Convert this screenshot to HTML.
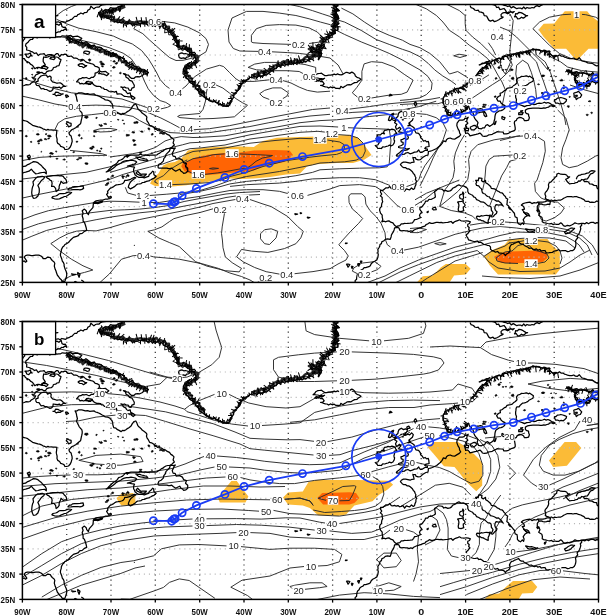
<!DOCTYPE html>
<html><head><meta charset="utf-8"><style>
html,body{margin:0;padding:0;background:#fff;}
svg{display:block;will-change:transform;filter:blur(0.3px);}
.frame{fill:none;stroke:#000;stroke-width:1.5;}
.lbox{fill:#fff;stroke:#000;stroke-width:1.3;}
.tick{stroke:#000;stroke-width:1.3;}
.gv{stroke:#3a3a3a;stroke-width:1.3;stroke-dasharray:1.1 3.96;}
.gh{stroke:#b8b8b8;stroke-width:1.2;stroke-dasharray:1.1 3.96;}
.ct polyline{fill:none;stroke:#2a2a2a;stroke-width:0.95;stroke-linejoin:round;}
.cs path{fill:none;stroke:#000;stroke-linejoin:round;}
.cs path.sp{fill:#000;stroke:#000;stroke-width:0.6;}
.tl{font-family:"Liberation Sans",sans-serif;font-size:9.1px;font-weight:bold;fill:#111;}
.cl{font-family:"Liberation Sans",sans-serif;font-size:9.4px;fill:#222;}
.pl{font-family:"Liberation Sans",sans-serif;font-size:19.5px;font-weight:bold;fill:#000;}
.trk polyline{fill:none;stroke:#1a3cf5;stroke-width:1.8;}
.trk circle{fill:none;stroke:#1a3cf5;stroke-width:1.7;}
.trk circle.dot{fill:#1a3cf5;stroke:none;}
</style></head><body>
<svg width="607" height="615" viewBox="0 0 607 615">
<defs>
<clipPath id="clipa"><rect x="22.4" y="4.5" width="576.1" height="277.9"/></clipPath>
<clipPath id="clipb"><rect x="22.4" y="321.5" width="576.1" height="277.9"/></clipPath>
<g id="coast" class="cs"><path d="M22.4 261.7 24.2 260.9 25.5 262.2 26.8 261.2 25.5 259.2 24.2 257.1 25.5 255.6 27.2 255.2 29 255.1 31.3 255.6 32.6 255.6 35.7 255.1 38.8 255.1 40.4 255.8 41.9 256.6 43.2 258.7 45.4 258.7 47.7 257.1 50.3 257.6 51.2 259.3 52.5 260.7 53.9 261.7 54.8 263.2 54.3 266.2 55.2 269.3 56 271 56.5 272.8 57.3 275 58.7 276.8 59.6 278.3 61 279.4 62.3 281.4 64.9 281.4 65.4 279.9 66.3 277.3 66.7 275.4 66.7 273.3 66.2 271.5 65.4 269.8 64.7 267.7 64.1 265.7 64.1 264.2 63.4 262.5 62.3 261.2 61.8 259.1 61 257.1 60.4 255.4 60.5 253.6 61.2 251.6 61.4 249.6 62.7 247 64 245.9 64.9 244.5 66.8 243.6 68.5 242.5 69.8 240.9 71.1 239.5 73.4 237.4 74.9 236.9 76.5 236.4 78.4 235.7 79.6 233.9 82.2 233.4 84.4 231.4 86.7 230.4 86.2 227.8 85.3 224.8 84.4 222.3 83.1 221.3 83.1 218.7 82.2 215.7 83.1 213.2 82.2 210.7 84.4 209.1 86.2 210.7 86.7 212.7 88.4 214.7 88.9 212.7 89.3 211.7 91.1 209.6 92.9 207.6 93.3 204.6 93.3 203.1 94.6 201.8 96.1 200.9 97.7 200.5 100.8 200 102.7 200.2 104.4 199.5 105.7 199 107.9 199 109.5 198.6 111 198 111.3 197 110.6 196.3 108.8 197.5 107.9 196.5 106.6 194.5 107.9 193 107.5 191.5 108.4 190.4 110.1 188.4 111.7 187.7 113.2 186.9 114.7 185.8 116.3 184.9 118.1 184.7 119.9 184.4 121.5 184 123 183.4 124.3 181.9 124.8 180.3 126.8 180.4 128.8 179.8 130.6 179.3 132.3 178.3 134.5 177.3 135.8 177.8 133.6 179.3 132.1 180.5 130.7 181.8 129.6 183.4 128.8 185.2 128.3 187.2 130.5 188.9 133.2 187.4 134.9 186.4 136.3 184.9 137.7 184 139.4 183.9 141.1 183.6 142.5 182.5 144.3 182.4 146.4 181.4 148.7 180.8 150.9 179.8 152.4 178.9 154 178.3 156.2 176.3 154 174.8 153.6 171.7 152.7 171.2 150.9 173.3 149.3 174.4 148.7 176.3 146.9 176.8 144.3 177.8 142.5 177.4 140.7 177.3 138.5 177.3 136.7 176.3 135 174.8 134.5 173.2 133.6 171.7 133.6 169.2 134.5 167.2 131.4 166.7 129.5 166.1 127.4 166.2 129.2 165.7 131 165.2 132.7 164.3 134.5 164.2 136.7 162.1 135.4 161.1 133.2 160.5 131 160.1 128.8 160.6 126.5 160.6 124.3 161.2 122.1 162.1 120.8 163.3 119.2 164 117.7 164.7 116 165.6 114.7 167.1 113.2 168.2 111.4 169.4 109.7 170.7 107.9 171.3 106.2 172 107.7 171.1 108.8 169.7 110.3 168.2 111.9 166.7 113.6 165.3 115.5 164.2 117.3 162.6 118.6 160.6 120.6 160 122.6 159.1 123.8 157.9 125 156.5 126.5 155.6 128.8 155.6 131 155.1 132.9 155.2 134.8 155.2 136.7 155.1 138.5 155.2 140.2 154.1 142.1 154.8 143.7 155.1 145.4 154.9 147 155.3 148.7 155.3 150.4 155.2 152 155.1 153.7 155 155.3 155.1 157 154.8 158.3 153.8 159.8 153.1 161.2 151.9 162.9 151.2 164.2 150 165.9 149 167.8 148.5 169.8 148.3 171.7 147.5 173 146.1 174.4 145 173.1 142.9 174 139.9 172.6 138.4 170.9 137.4 169.5 135.4 167.3 134.4 165.1 132.8 163.3 132.3 161.7 131.2 159.8 130.8 157.8 130.5 156.2 129.3 154.7 128 153.1 126.8 151.5 125.8 149.6 125.3 148.3 122.7 147.1 121.1 146.5 119.2 146.9 117.2 145.8 115.7 144.3 114.6 142.1 113.1 141.1 111.7 139.8 110.6 138.5 109.5 137.6 108.1 136.9 106 135.8 104 134.1 104.5 132.3 106.6 131 109.1 129.3 110.5 127.4 111.6 125.9 112.7 124.3 113.6 122.5 113.4 121.2 114.6 118.6 113.1 117 112.4 115.9 111.1 113.7 110.6 112.8 107.6 112.7 105.5 111.9 103.5 110.8 102.3 109.7 101 107.6 100.2 105.3 100 103.8 98.8 102.2 98 100.5 96.9 98.6 96 97.1 95.4 95.5 95 94.2 93.9 92 94.1 89.8 94.4 87.6 93.6 85.3 93.9 83.6 93.3 81.8 92.9 80 92.9 78.3 92.9 76.8 94 75.1 93.9 76 95.6 76.5 97.5 76.8 99.5 77.4 101.5 76.5 104.5 77.4 106 78.2 107.6 79.1 109.6 80.4 111.2 81.8 112.6 82.2 114.4 82.2 116.2 81.8 118.2 81.3 120.2 81 122 80.5 123.7 78.9 125 77.4 126.3 75.7 127.7 73.8 128.8 72.1 129.5 70.7 130.8 68.9 132.8 69.6 134.7 71.1 135.9 71.5 137.7 72 139.4 72.2 141.5 71.6 143.4 71.1 145.3 70.3 147 68.5 149 66.7 149.3 64.9 149.5 64.2 147.9 62.7 147 60.7 146.3 59.6 144.5 57.8 143.4 57 141.4 57.1 139.1 56.5 136.9 56.3 135.2 56.6 133.6 56.7 131.9 57 130.3 55.1 130.1 53.1 130.2 51.2 129.8 49.5 130 47.9 129.4 46.2 130.2 44.6 129.3 42.9 128.8 41.3 127.8 39.7 127.2 37.9 126.8 36.1 126.3 34.4 125.8 32.6 125.3 30.9 124.1 29.3 122.9 27.7 121.7 26 121 24.1 120.7 22.4 119.7" stroke-width="1.25"/>
<path d="M158.4 168.2 160.4 168.2 162.4 168 164.6 168.2 166.9 168.2 168.5 168.7 170.1 168.7 171.7 168.2 173.5 169.7 175.7 171.2 177.5 170.2 179.7 169.2 181 171.2 182.8 172.3 183.7 173.3 185.9 172.8 187.7 171.2 187.7 168.2 185.5 166.2 186.4 163.7 183.7 162.7 182.4 160.1 179.7 158.6 177.9 158.8 176.2 159.1 175.3 156.6 173.1 156.1 172.2 153.6 173.5 151 174.1 149.3 175.3 148 173.1 148.5 170.3 148.3 169.5 151 167.3 153.1 165.9 154.6 165.5 156.6 163.8 158.6 163.3 161.1 161.1 163.2 158.9 164.2 158 166.7 158.4 168.2" stroke-width="1.25"/>
<path d="M135.4 156.8 137.6 157.1 139.8 157.3 141.5 158 143.1 158.3 144.8 158.8 146.5 159.1 147.8 160.6 146 160.8 144.3 160.6 142.4 160.1 140.4 159.8 138.5 159.4 137 158 135.4 156.8" stroke-width="1.25"/>
<path d="M135.8 173.3 137.6 171.2 139.1 172.8 140.7 174.3 142.6 174.1 144.6 174 146.5 174 144.3 176.3 142 175.9 139.8 175.3 137.8 174.4 135.8 173.3" stroke-width="1.25"/>
<path d="M93.3 203.6 95.5 203.1 97.7 203.6 99.9 202.8 102.2 202.1 102.6 201.1 99.5 201.8 97.5 202.3 95.5 202.1 93.3 203.6" stroke-width="1.25"/>
<path d="M71.1 273.8 73.4 274.1 75.6 274.3 72.5 274.8 71.1 273.8" stroke-width="1.25"/>
<path d="M77.4 272.3 78.7 273.2 80 274.3 79.1 277.3 78.2 275.3 77.4 272.3" stroke-width="1.25"/>
<path d="M81.3 279.9 83.6 281.4 83.1 282.9 84.4 282.4" stroke-width="1.25"/>
<path d="M74.7 281.4 76.9 282.4 76.6 284.4 76 286.4 73.8 284.4 74.7 281.4" stroke-width="1.25"/>
<path d="M22.4 173.3 24 172.5 25.7 172.1 27.3 171.6 29 171.2 31.3 169.2 33 171.2 34.3 172.5 35.7 173.8 38 173.5 40.1 172.8 42.3 172.5 44.6 172.3 46.3 173.8 46.3 171.7 45.4 169.7 43.8 168.3 42.3 166.7 41 165.2 39.4 164 37.9 162.7 35.7 161.9 33.5 161.6 32 162.5 30.5 163.2 29 164.2 27.1 164.9 25.5 166.2 22.4 166.7" stroke-width="1.25"/>
<path d="M33.5 198.5 35.7 198 37.9 196 38.5 194.2 39.2 192.5 39.3 190.4 39.2 188.4 38.6 186.9 37.9 185.4 39 183.9 40.1 182.4 41.1 180.9 42.3 179.8 43.7 178.8 44.6 177.3 42.3 176.3 40.1 176.6 37.9 176.8 35.7 178.3 34.3 180.1 33 181.9 33.5 184.9 32.6 186.8 32.1 188.9 31.9 190.7 31.7 192.5 31.9 194.5 32.6 196.5 33.5 198.5" stroke-width="1.25"/>
<path d="M45.9 176.8 47.6 176.3 49.5 176.2 51.2 175.8 52.9 175.6 54.5 175.5 56.2 175.6 57.9 175.3 59.6 175.9 61.4 175.7 63.2 176.3 64.3 178 65.8 179.3 66.5 181 66.7 182.9 64.9 182.9 63.2 183.4 61 181.3 60.5 183.2 59.6 184.9 59.1 186.6 59.2 188.4 57.9 190.2 56.1 191.5 55.6 188.4 53.9 186.4 51.6 186.4 52.1 183.4 51.6 180.8 50 180.2 49 178.8 47.3 178.1 45.9 176.8" stroke-width="1.25"/>
<path d="M51.6 198 53.3 198.3 54.8 199 57 199.2 59.2 199 60.9 198.1 62.7 197.4 64.5 196.5 66.1 196.3 67.6 195.5 68.9 194.4 70.4 193.6 71.6 192.5 68.9 192 66.9 192.7 64.9 193.5 63.3 193.7 61.7 193.6 60.1 193.5 58.6 194.2 57.3 195.4 55.6 196 53 196.5 51.6 198" stroke-width="1.25"/>
<path d="M67.6 189.9 69.4 190 71.1 189.9 73.4 189.7 75.6 189.7 77.8 189.5 80 189.9 81.9 189.4 83.6 188.4 83.1 185.9 80 186.4 76.9 186.7 74.7 186.6 72.5 186.9 71.2 188.1 69.4 188.2 67.6 189.9" stroke-width="1.25"/>
<path d="M28.6 158.6 30.4 157.1 29.5 155.1 27.3 156.1 28.6 158.6" stroke-width="1.25"/>
<path d="M35.7 83.8 35.9 81.9 38.1 81.2 38 79.1 39.2 77.8 40.7 76.2 42.5 75.5 44.6 75.2 46.4 75.2 47.6 77.1 49.8 76 51.2 77.3 50.9 79.8 52.5 81.8 54.4 82.3 56.2 83 58.1 83 60.1 82.8 61.9 83.9 63.4 85.5 65.4 86.4 63.5 86.2 62.2 87.2 61 88.4 59.4 87.1 57.4 87.7 55.6 87.4 53.2 87 52.9 89.5 51.6 90.8 49.9 91.4 48.2 90.5 46.5 89.5 44.6 89.4 43.2 88.5 41.2 88.9 40.1 87.4 39 85.7 36.8 85.5 35.7 83.8" stroke-width="1.25"/>
<path d="M52.5 94.4 54.5 94.2 55.7 92.1 57.9 92.4 59.5 93.2 61.2 94 63.2 93.9 61.5 94.5 60.1 95.4 58.2 95.2 56.2 95.9 54.5 94.3 52.5 94.4" stroke-width="1.25"/>
<path d="M22.4 85.8 24.3 85.5 26.2 84.7 28.2 84.8 29.9 84.5 31.1 83.1 32.6 82.3 34.6 80.9 35.7 78.8 33.6 78.9 32.1 77.3 34.5 77.2 35.6 75 37.5 74.2 40.1 72.7 42.1 72.4 43.7 73.7 45.6 73.3 46.8 71.7 48.9 70.9 51.2 70.7 52.7 69.6 53.5 67.5 55.6 67.2 57 66 59 65.6 59.6 63.6 60.4 61.6 61 59.6 59.4 58.9 58.2 57.5 56.5 57 54.8 56.9 53.3 56 51.7 55.5 49.9 56 47.9 56.8 45.9 57.4 43.7 57 43.2 59.3 43.2 61.6 44.4 63.3 45.4 65.1 43.5 65.6 42.4 67.8 40.1 67.7 38.2 67.3 36.5 67.7 34.8 68.7 33.6 66.9 32.3 65.2 30.4 64.1 29.1 62.5 27.2 61.7 25.5 60.6 24.5 58.7 22.4 58.6" stroke-width="1.25"/>
<path d="M66.7 36.1 68.1 37 69.9 37.3 70.8 39.1 72.5 39.5 73.5 41.2 75.6 40.9 77.2 41.4 78.8 42.1 80.3 43.1 82.2 42.4 83.8 43.2 85.9 41.7 87.4 42.8 88.9 43.9 90.2 45.5 91.9 46.1 94.3 45.3 95.5 46.9 97.6 46.9 99.5 47.4 101.4 48.2 103.1 49.5 104.7 50.1 105.9 52 108 51.4 109.7 52 110.9 54.1 113.1 52.9 114.6 53.9 116.3 54 117.7 55.8 119.5 57 121.7 57.6 123.6 58.9 125.2 60.6 127 62.1 128.8 63.6 130.2 64.7 132.7 63.4 133.6 65.5 135 66.6 136.5 67.4 137.9 68.4 139.8 68 141.2 69.2 143.1 69.3 144.9 69.9 146.5 71.2 148.7 72.7" stroke-width="1.3"/>
<path d="M65.7 38 67.3 38.7 68.7 39.7 69.8 41.2 71.2 42.3 73.7 41.3 74.7 42.9 76.6 42.7 78.1 44.2 79.7 45.2 81.7 44.5 82.8 47.2 85.1 44.8 86.7 45.1 88.2 46 90.2 45.9 91.1 48.2 92.9 48.6 94.7 49 96.1 50 97.7 50.1 99.3 50.5 100.4 52.2 102.3 51.5 104.4 51.2 105.3 53.8 107 54.3 109 54.1 110.6 54.6 111.9 56.1 113.9 55.4 115.4 56 117 57.2 118.9 57.9 120.4 59.3 121.7 61.3 123.8 62.3 125.7 62.6 125.9 64.9 127.6 65.5 129 66.8 130.8 67 132.5 67.8 134.1 68.7 135.8 68.9 137.3 69.7 138.9 70.3 140.4 71.2 142.7 70.2 144.3 71.2 145.5 73.2 147.5 74.5" style="stroke:#2a2a2a;stroke-width:2.4"/>
<path d="M66.4 36.6l-0.5 0.4M67.5 36.8l-0.6 1.2M68.8 37.4l0.2 -0.7M69.7 38l0.4 4.2M70.7 38.4l-1.6 5.1M71.6 38.5l-0.1 1.3M72.3 38.9l-0.5 0.6M73.3 40.1l-4.5 3.1M74.8 40.3l-0.1 0.8M75.5 40.9l0.9 -1.1M76.3 40.9l-1.4 1.8M77.5 41.2l-1.4 2.6M78.5 42l0.1 2.1M79.7 41.5l0.4 0.8M80.9 41.8l0.2 2.4M82 42l0.5 2.7M82.8 42.6l-0.2 1.2M83.5 42.8l-0.5 2M84.3 42.7l-0.9 1.4M85.6 43.4l0.1 2.7M86.5 42.8l-1.8 3.4M87.2 43.2l0.6 1.5M88.2 43.8l-1.5 4.9M89.1 44.7l-0.9 3.6M90.1 44.3l-0.9 3.4M90.8 45l-1.6 3.3M92.4 45.2l-3.9 3.5M93.1 45.4l-4.5 3.3M94.2 45.8l-3.5 3.3M95 46.8l-0.3 1.1M95.6 47.2l0 0.6M96.6 47.5l-1.7 1.7M97.6 47.9l0.3 3.6M98.3 48l-1.9 1.5M99.2 48.7l-0.2 0.7M100.4 48.5l-1.4 4.1M101.6 48.8l-1 2.4M102.8 49.2l-0 -0.8M104.1 49.6l0.3 -0.4M105.4 49.7l-1.4 4.5M106.2 50.7l0.3 4.3M107.3 51.2l-0.6 0.4M108.4 50.9l-0.6 1.7M108.9 51.8l-0.3 4.4M109.7 52.5l-1.4 1.7M110.5 52.8l-0.3 4.1M112 52.5l-0.5 0.6M112.7 53l-0.9 1.2M113.6 53.7l-3.2 3.4M114.9 53.2l-1.6 3.5M115.8 53.9l-1.2 2.7M117.3 54.1l-2.7 1.9M117.4 55.4l-0.4 0.7M118.4 56.1l0.6 5.4M119.9 56.4l-1.8 5.3M120.5 57.1l-2.3 3.1M121.4 57.8l-1.7 1M122.5 58.7l1.1 -2.7M123.2 58.9l1.7 -0.7M123.8 59.5l-0.1 1.5M124.8 60.6l-0.9 1.8M125.4 61.5l-4.4 1.4M126.6 61.6l0 -1.3M127.3 63l-1 2.6M129 63.2l1.1 -1.8M129.6 64l0 1.9M131.2 64.2l-3.4 1.9M131.8 64.6l-0.1 3.1M132.5 65.7l-4.1 3.9M133.5 66.5l-2.2 3.6M134.3 66.5l-0.1 0.9M135.3 67.3l-1 3M136.5 67.9l-0.2 1.2M137.8 67.4l0.6 -0.6M138.2 68.4l-1.9 4.7M139 68.9l-2.3 3.2M139.9 69.1l-0.1 1.7M140.7 69.6l-0.1 -0.5M142 69l-2.7 5.3M142.8 69.5l-0.7 0.6M143.9 70.6l-0.6 3.5M145.4 70.3l-1.7 1.8M145.8 71.4l-0.8 0.9M146.9 71.8l0.7 -2.7M147.9 71.6l-0.8 4.7M148.6 72.2l-1.5 0.8" stroke-width="1.05"/>
<path d="M66.7 36.1 68.8 35.7 71 35.2 71.9 37.1 73.5 37.7 74.5 39.3 75.6 40.9 77.5 40 79.3 40 80.9 40.7 82.2 42.4 83.6 44 85.5 43.5 86.8 45.2 88.9 43.9 90.1 45.5 92.2 45.4 94.5 44.8 95.5 46.9 97.3 47.8 99.6 47.2 101.6 47.5 103.1 49.5 104.6 50.4 106.8 49.7 107.6 52.4 109.7 52 111.1 53.4 113.3 52.2 114.2 55 116.3 54 117.4 56.2 119.9 56.3 121.7 57.6 124 58.5 125.2 60.6 126.4 62.8 128.8 63.6 131.8 61.3 131.9 65.1 133.4 65.9 135 66.6 136.9 66.4 138.7 66.4 140 67.6 141.2 69.2 141.9 72.6 144.9 70.1 146.5 71.2 148.7 72.7" stroke-width="0.9"/>
<path d="M148.7 72.7 147 73.1 145.5 73.9 143.8 74.2 142 75.8 139.8 76.8 137.8 76.7 135.7 76.8 134.1 78.3 131.6 78.4 129.6 76.8 128.5 75.2 126.6 75 125.3 73.9 123.4 73.7 125.5 75 126.1 77.3 128.2 78.4 129.6 80.3 132 81.1 133.2 83.3 134.3 85.2 134.1 87.4 131.9 88.2 131 90.4 129.1 90.1 128.1 88 126.1 87.9 124.4 87 122.5 87.7 120.8 86.9 122.5 87.3 123 89.2 124.2 90.2 125.7 90.9 126.5 92.4 127.7 93.7 130.2 92.9 130.7 95.4 132.3 96 130.5 96.9 128.5 96.8 126.5 96.5 124.5 96.4 122.8 95.3 121.1 94 119 93.9 117.2 94.2 116.3 91.3 114.4 92.1 112.8 91.5 111 91.9 109.3 91.5 107.8 90.5 106.3 89.5 104.4 89.4 103.3 88 101.5 87.9 100.4 86.5 98.6 86.4 96.7 86.4 95.1 85.6 93.7 84.7 92.4 83.3 90.6 83 88.9 83.5 87.1 83.8 85.3 83.3 83.6 84 81.8 83.3 80 83.8 78.7 82 76.5 81.8 77.8 80.3 79.1 78.8 80.9 78.7 82.6 77.6 84.4 77.9 86.2 77.5 88 78.3 89.9 78.6 91.5 77.3 93.3 77.3 95 75.6 95.1 73.2 96.8 72.6 98.3 71.7 99.5 70.2 99.1 67.8 96.8 66.6 95.2 66.3 94.1 65 92.7 64 91.1 63.6 89.3 63.1 87.5 62.7 85.9 61.9 84.4 60.6 82.9 59.4 80.9 59.7 78.9 59.9 77.4 58.6 75.8 58 73.9 58.2 72.5 57.1 71.1 56 69.4 56.4 67.8 56.4 66.4 54.4 64.8 54.1 63 54.8 61.4 54.5 59.7 56.7 58 53.7 56.3 53.7 54.6 55.4 52.9 55.1 51.2 54.5 49.4 54.6 47.6 54.9 45.8 56 44.1 53.7 42.3 54 40.3 54.1 38.2 55.5 36.4 52.9 34.4 53.5 32.8 52.1 30.9 51.4 29 50.5 26.6 50 26.8 47.4 25.5 45.9 26 43.8 27.8 42.5 29 40.9 30.5 39.5 32.5 39.4 33.6 37.4 35.7 37.3 37.5 37.8 39.2 36.4 41 36.8 42.8 37.1 44.6 36.8 46.3 36.6 48.1 35.7 49.9 38.1 51.6 36.2 53.4 36.8 55.2 36.6 57 37.2 58.8 36.9 60.6 36.8 62.3 35.8 64.5 36.1 66.7 36.1" stroke-width="1.25"/>
<path d="M66.7 38.4 68.2 39.5 70.2 38.2 71.8 39 73.4 39.9 75 40 76.6 40.6 78.2 41.7 80 40.4 81.8 38.4 80.3 37.6 78.9 36.8 77.4 36.1 75.6 36.3 73.9 36.6 72.2 36.4 70.6 35.7 68.9 35.8 68.3 37.5 66.7 38.4" stroke-width="1.25"/>
<path d="M77.8 65.1 79.6 66.3 81.8 66.5 83.6 67.7 85.1 66.6 86.7 65.6 85 65.4 83.6 64.5 82.2 63.6 79.8 63.9 77.8 65.1" stroke-width="1.25"/>
<path d="M22.4 22.2 24.2 22.4 25.9 20.8 27.7 21.2 29.4 20.8 31.3 21.7 33.1 19.7 34.6 22.4 36.3 21.8 37.9 21.7 39.6 21.4 41.3 21.6 42.9 22.9 44.6 22.7 46.5 22.5 48.1 24.2 50.1 23.7 51.8 24.6 53.7 24.9 55.6 24.2 57.4 24.4 58.9 25.3 61.2 23.3 62 26.7 63.6 27.3 65.4 27.2 66.7 29.8 64.7 29.2 63.3 30.5 61.4 30.3 60.1 31.8 58.2 31.9 56.4 32.8 54.5 31.7 52.7 32.5 50.9 32.6 49 32.3 47.1 31.7 45.3 31.8 43.4 31.8 41.6 32.5 39.8 32.6 37.9 32.3 36.1 33.2 34.4 31.4 32.6 32.7 30.8 32.9 29 32.3 27.4 31.5 25.8 31.3 24 32.4 22.4 31.8" stroke-width="1.25"/>
<path d="M22.4 35.3 24.6 36.8 24.7 38.9 23.3 40.4 22.4 41.9" stroke-width="1.25"/>
<path d="M22.4 20.2 24 21.1 25.4 23.5 27.4 21 28.8 23.5 30.6 22.5 32.6 19.3 33.9 22.7 35.7 21.7 37.3 23.1 39 22.5 40.8 20 42.4 20.7 44 23.2 45.7 22.3 47.3 22.9 49 22.2 50.8 22.2 52.7 22.4 54.5 22.3 56.4 22.1 58.3 21.8 60.1 22.7 61.7 21.5 63.6 21.9 65.6 22.3 67.2 21.2 68.9 20.7 70.4 19.7 72.2 19.1 73.4 17.6 74.7 16.4 76.8 16.3 77.8 14.6 79.4 14.1 80.9 13 83.1 14 84.4 12.6 86.9 12.3 88 10.1 89.8 9.3 90.9 6.2 93.9 8.9 95.5 7.5 97.2 7 99.1 7 100.5 5.6 102.2 5 104.4 4.6 106.6 4.5" stroke-width="1.25"/>
<path d="M40.1 15.1 41.8 16.1 43.6 16.3 45.4 16.4 47.2 16.7 49 16.6 50.7 15.9 52.6 16.8 54.3 15.6 56.1 15.8 57.9 15.6 56 15.8 54.2 15.4 52.6 14.5 50.7 15 49 14.1 47.2 13.8 45.4 14.2 43.7 14.7 41.9 14.8 40.1 15.1" stroke-width="1.25"/>
<path d="M124.3 4.5 122.4 4.6 121.3 6.6 119.3 6.6 117.7 7.5 116.1 8.3 114.2 8.2 112.4 8.2 110.5 7.7 109.1 9.4 107.5 10.1 105.5 9.9 103.9 10.9 102.3 12.1 100.5 12.3 98.6 12.6 99.9 14.1 100 16.1 101.7 16.5 103.5 16.8 105.4 16.5 106.9 18.3 108.8 18.1 110.1 19.4 112 19.2 113.2 20.6 114.9 20.8 116.3 21.7 117.9 22.4 119.6 22.4 121.2 22.6 123.1 21.7 124.3 23.7 126 23.3 127.6 24.2 129.3 23.5 131 23.2 132.6 25.9 134.3 23.8 136 24.3 137.6 24.2 139.3 23.6 140.9 23.1 142.6 23.6 144.3 23.7 145.9 23.8 147.6 24.7 149.3 23.8 150.9 24.2 152.4 26.2 154.3 24.6 156 25 157.7 25 159.5 24.7 161.1 25.7 162.8 26.3 163.4 28.2 165.1 28.8 167.3 29.8 168.6 31.8 170.7 32.7 171.7 34.8 173.1 36.4 174 38.4 174.4 40.5 176.2 41.9 177.2 43.8 176.6 45.9 177.9 47.2 179.6 47.5 181 48.5 182.8 49 184.7 49 186.4 50 187.6 51.4 189.5 52 189.9 54.5 191.5 55.8 193.7 55.7 195.2 57 196.1 60.1 194.3 60.8 193.5 62.6 191.8 63.4 189.8 62.7 188.1 63.6 186.8 64.7 185.1 65.3 184.6 67.2 183.4 69 183.3 71.2 183 73.7 185 75.2 186.1 76.7 186.8 78.4 188.6 79.3 189 81.1 190 82.5 191.7 83.3 193.4 84 192.9 86.8 195.2 86.9 195.9 88.8 197.3 90.1 198.8 91.4 199.5 93.1 200.7 94.5 202.3 95.4" stroke-width="1.3"/>
<path d="M125.2 6.5 123.6 7.4 121.8 8.1 120.1 9 118.4 9.6 116.5 9.4 115.1 11.2 113.4 11.6 111.4 11 109.8 11.7 108 12.2 106.1 11.3 104.9 13.2 103.3 13.8 101.5 13.4 100 14.3 101 14.2 102.9 13.7 104.3 15.5 106 16 107.7 16.1 109.5 16.1 110.9 17 112.8 17 114.1 18 114.5 21.2 117.1 19.6 119.1 19.6 120.8 20.9 123 20 124.6 21.5 126.2 22.1 127.8 22.2 129.5 20.9 131.1 21.9 132.7 22.1 134.4 22.7 136 21.8 137.7 22 139.3 21.4 141 21.3 142.7 21.8 144.4 21.9 146 22.4 147.7 22.2 149.4 21.4 151.1 22 152.9 21.8 154.8 21.7 156.7 20.9 158.1 23.8 160.1 22.7 161.8 23.6 163.6 24.4 165.3 25.3 166.5 27 169 26.6 169 29 170.1 30.2 171.4 32.1 173.5 33.4 174.6 35.3 175.8 37.2 176.1 39.7 178.3 41.2 178.6 42.9 178.4 44.6 179.6 46.6 181.9 46.4 184 45.9 185.3 48.1 187.2 47.9 188.7 48.6 190.5 48.9 191.2 50.6 191.4 52.9 192.8 54.5 194.4 55.6 196.7 55.4 198.4 56.9 197.3 59.1 198.2 60.7 196.9 62.1 195.3 63 194.3 64.6 192.4 64 191.1 66.3 189.1 65.6 186.7 65.9 186.4 68.3 185.5 71.1 186.9 72.2 186.9 74 187.3 75.9 189.8 76 190.3 77.9 192 78.7 191.5 81.2 193.3 81.9 195.1 82.5 194.6 85.3 196.9 85.4 199 86.2 199.6 88.2 200.5 90 202 91 203.6 91.9 204 94" style="stroke:#2a2a2a;stroke-width:2.4"/>
<path d="M124.5 4.8l-1.2 -0.9M123.5 4.7l1.3 1M122.5 5.4l-0 1.4M121 5.6l-1.5 6.5M119.9 6.5l0.6 4.9M118.8 6.8l-1.3 -0.7M118.1 7.9l1.4 2.8M116.5 7.8l-0.1 2.4M115.7 7.7l-0.8 2M114.7 8.1l-1.3 2.8M113.3 8.1l0.5 1.5M112.5 8.9l0.8 1.7M111.7 9.6l1.8 3.6M110.6 9l3 5.7M109.6 10l-0.3 4.7M108.6 9.8l5.2 4.5M107.7 10.3l4.5 4.4M106.4 10.7l-0.5 3M105.1 10.5l0.1 0.6M104.1 11.4l-1.5 5.5M103 10.8l-0.2 1.7M102 11.5l-0.7 -3.2M100.8 11.6l-0.7 -1.2M100 11.9l0.2 -0.9M99.1 11.9l-2 5.4M99.1 12.9l1.4 -1.8M98.6 14l2.6 -0.1M99.6 15l6.4 1.1M100.1 15.9l4.5 -3.3M100.5 16.1l0.4 2.1M101.2 16.9l-0 1.5M102.2 17l-0.9 3.1M103.1 16.8l-1.5 -3.6M104 17.5l0.8 -1.3M105 17.1l-0.4 0.6M106.4 17.3l-0.8 -6.7M107.1 18l0.9 -0.7M108.5 17.8l-1.1 -5.8M109.3 18.2l-0.9 1M110 18.4l1.2 -3.3M111 19.7l-0.1 2.5M112.3 19.5l-0 0.9M112.9 20.1l1.8 -4.3M114.1 20.5l0.2 -1.3M114.8 21.3l-0.4 0.2M115.8 21.1l-2 1M116.5 21.3l3.4 -4.9M117.4 22.2l1.1 -1.9M118.8 21.7l5.5 -4.5M119.3 22.7l0.1 -1.8M120.3 23.2l1.1 -1M121.5 23.5l-0.1 -0.8M122.5 23.7l0.2 -1.3M123.5 23.9l-0.1 3.6M124.9 23.2l0.3 2.8M126.4 24.2l0.1 3M127.7 24l-0.8 -3.2M128.4 23.4l1 -4.5M129.8 23.9l0.3 -1.3M130.5 24.4l0.2 0.4M131.9 23.8l0.4 -1M133.1 24.3l-0.7 1.4M134.2 24.5l0.7 1.8M135.2 24.2l-0.8 1.3M136.5 23.9l-0.7 0.9M137.9 23.7l-1.8 -6.8M139.1 23.8l-1.6 -2.1M140.5 24.1l-0 3.1M141.9 23.7l-0.7 -6.5M142.6 24.3l0.1 -2.8M143.8 24.8l1.4 -4.1M144.7 24.5l0.2 2.2M145.5 24.4l0.2 -0.8M146.8 24l-0.9 -6.9M148.1 24l0.9 2M149.1 24.2l2.5 -6.4M150.2 24.6l-1.9 -2.4M151.3 23.9l2.3 -3.3M152 24.2l2.1 -6.3M153 24.8l1.3 -3.8M153.8 25.1l0.6 -3.8M154.7 24.5l1 2.6M155.8 25.3l-1.1 -4.1M157.2 25l3.3 -4.8M158.6 24.9l0.7 2.2M159.8 25.8l-0.1 3.3M160.9 25.9l-1.1 2.3M161.9 25.7l0.6 -1.2M162.4 26.7l0.9 -0.5M163 27.6l1.7 -6.4M164.6 27.7l1.1 -1M164.7 28.6l2.3 -2.5M165.5 29.4l2.6 -0.8M166.3 29.6l2.5 -1M167.3 29.9l2.6 -2.3M168.3 30.8l2.9 -0.7M169.1 32.1l4.7 -1.3M170.1 32.5l5 -4.3M170.6 33.8l1.8 -5.7M171.9 34.1l2.8 -2.7M172.1 35.6l3.9 -0.8M173 36.6l5.8 -0.1M173.1 37.8l4 -1M173.9 38.8l-1.8 1M175 39.5l2.4 -4.1M175.5 40.5l7.1 0.5M175.7 41.6l4.3 0.5M175.9 42.2l3.9 -2.9M176.2 43.4l1.7 -0.8M177.1 44.7l3.1 1.9M176.1 45.8l2.7 0.5M177.2 46.2l0.4 -1.8M177.8 46.5l0.1 -6M178.9 47.4l-0.3 -6M180 47.3l0 2.5M180.8 48.8l1.7 -1.1M181.7 49l2.1 -3.9M182.9 49l-0.1 -2M184.3 49l1.8 -2.1M184.9 49.7l1.8 -6.5M185.7 50.1l1.1 -4.4M186.8 50.6l1.1 -2.9M187.6 51l1.3 -2.1M189.1 51.3l0.3 -7.1M189.2 52.5l5.9 -0.3M189.4 53.8l-1.9 2.2M190.4 54.3l3.1 0.5M191.3 54.9l-0.2 -7.2M192.2 55.8l-1.3 1.5M193.3 55.6l2.4 -2.7M194.3 56.4l1.4 -3.1M195 57.2l-2.5 2.4M196 58.1l1.6 -0.5M196 59l0.8 0.2M196.2 60.4l0.7 2.8M194.9 60.9l1 1.3M194.4 62.2l2.3 5.8M193.3 62.4l3 1.4M192.1 63.3l-0.4 0.9M190.8 63l1 -1.9M189.7 63.5l-0.4 -1.2M188.7 63l3.8 3.1M188.2 64.4l1.2 5.3M186.8 65.1l5.8 3.4M186.2 66.3l0.8 4.4M185 66.6l1.6 0.6M184.2 67.3l5.2 -0.1M184.7 68.7l6.3 -0.8M184.2 69.5l2.3 2.8M183.2 70.7l4.2 1.4M183.6 71.5l1.4 -0M184 72.4l3.2 -1.8M184.1 73.6l3.3 -1.3M185 74.3l3.7 -2.1M184.7 75.5l-1.5 2.4M185.4 76.2l1.9 -0.2M186.3 76.3l-0.4 1.9M186.9 77.7l-1.8 0.3M187.9 78.5l1.2 -3.6M188.9 79.1l4.2 -0.5M189.2 80l-0.7 1.1M189.8 80.4l-0.4 0.1M189.9 81.6l5.2 -0.2M190.8 81.9l-0.6 0.4M191.3 83.4l2 -1.2M192 84.4l1.7 -0.6M193.5 84.7l2.1 -4.4M193.8 85.6l0.5 -1.8M195.3 86.3l3.9 -0.6M195.8 87.3l3.5 -5.8M195.8 88.4l-1.2 0.8M196.6 88.9l1.1 -0.2M197.2 90.1l1.4 -1M197.9 91l2.1 -5.5M198.7 91.4l5.2 -0.4M198.9 92.2l1.6 -0.8M200 92.3l1.1 -3.7M200.2 93l4.1 -1.4M201.2 93.6l4.6 -0.8M201.5 94.5l1.8 -3M201.9 95.5l-1.6 1" stroke-width="1.05"/>
<path d="M124.3 4.5 123.2 6.5 120.2 4.3 120.1 8.4 117.7 7.5 116.1 8.3 115 11.4 112.4 8 111.3 10.9 109.1 9.5 107.5 10.1 105.4 9.4 103.8 10.5 101.6 9.7 100.4 12.3 98.6 12.6 99.7 14.2 100 16.1 101.9 15.6 103.2 18.2 105.1 17.9 107.3 16.7 108.8 18.1 112 15.3 111.4 20.6 112.8 21.5 114.3 22.1 116.3 21.7 117.7 23.2 119.7 21.8 121.1 23 123.4 20.8 124.3 23.7 126.1 21.8 127.7 22.9 129.4 22.6 131 24.4 132.7 23.3 134.3 23.8 136 22.8 137.6 24.2 139.3 25.9 140.9 24.3 142.6 22.4 144.3 22.5 145.9 22.8 147.6 25.7 149.3 25.9 150.9 24.2 152.7 23.9 154.1 26.3 155.9 25.8 157.8 24.4 159.7 23.6 161.1 25.7 165.2 23.1 165.7 25.2 165.1 28.8 164.6 32.9 168.6 31.8 168.7 34.8 171.7 34.8 174.3 35.7 174 38.4 176.4 39.3 176.2 41.9 172.8 44.3 176.6 45.9 178.1 46.7 178.3 49.9 181 48.5 182.3 50.8 184.6 49.3 186.4 50 189.7 48.2 189.5 52 189.9 54.5 192 54.6 194.4 54.3 195.2 57 196.1 60.1 196 62.6 193.5 62.6 191.8 63.3 190.8 67.8 188.1 63.6 187.2 65.1 186.5 66.7 184.6 67.2 184.9 69.5 183.3 71.2 184.4 73.1 185 75.2 185.2 77.5 186.5 78.7 188.6 79.3 189.3 80.8 190 82.5 191.7 83.3 193 84.4 194.7 85 195.2 86.9 196.7 88.2 198.5 89.2 198.8 91.4 198.8 93.8 200.2 94.9 202.3 95.4" stroke-width="0.9"/>
<path d="M202.3 95.4 203.8 96.5 205 97.8 206.3 99 207.9 99.4 209.1 100.6 210.7 101 212.4 102 214.6 100.8 216.1 102.5 217.6 103.1 218.7 104.5 220.5 104.5 222.8 104.9 224.9 106.1 226.9 106 228.9 105.6 230.7 103 230.9 101.1 232 99.5 233.5 97.7 233.8 95.4 234 93.4 235.7 92.6 236.9 91.4 237.9 89.9 239.6 89 240.4 87.4 240.6 85 242.2 83.3 243.8 82.1 245.6 81.2 247.1 79.8 248.6 79 249.6 77.4 251.5 77.3" stroke-width="1.3"/>
<path d="M202.6 95.1l2.3 -1.5M203.3 96.5l0.7 -0.6M204.4 96.8l0.1 -2.6M204.7 98l0.4 -2.4M205.6 98.3l0.4 -1.2M206.6 99l-0 -2.8M207.5 99.4l0.5 -1.2M208.6 100.3l0.4 -1.8M209.2 100.8l0.4 -3.6M210.4 101.3l-0.1 0.5M211.4 101.4l-0.7 -1.8M212.8 101.6l0.8 -2.5M213.3 102.2l1.6 -2M214.8 101.7l0 0.4M215.5 102.4l0.9 -2.8M216.7 103.3l1.3 -1M217.5 103.1l1.7 -2.9M218.6 103.4l0.8 -3.3M219.2 104.5l-1 0.8M220.4 104.2l0 -1.3M221.6 105.3l2.3 -2M222.8 105.9l-0.3 -4.1M223.6 106.1l-0.3 0.3M225.2 105.5l-1.1 -2.4M226.1 106l1.8 -4.1M227.2 105.2l1.4 1.7M228 106.2l-1 -1.6M228.9 105.3l0.5 -3.4M229.5 104.9l-0.6 -1.7M230.5 103.9l-3.1 -0.9M230.5 102.5l-0.8 0.1M231.3 101.8l-1.3 -1.6M232 101l-2.5 0.8M232 99.8l-0.8 -0.3M232.2 98.5l-4.1 0.1M232.5 97.1l-2.1 0.1M233.8 96.1l-1.7 -1.4M234.2 94.6l-0.4 -1.7M235.6 93.9l-4.4 -1.7M235.9 93l0.8 0.6M236.5 92.5l0.7 0.2M236.4 91.3l-1.2 -1.6M237.9 90.8l-3.1 -1.1M238.5 90.4l-2.6 -0.3M239 89.7l-1.3 -2M239.2 89l-0.7 -2.5M239.8 88.4l-2.1 -3.3M240.3 87l-3.6 -2.6M241.1 85.7l-2.2 -0.3M241.8 84.9l-2.7 -1.5M241.5 83.7l-2.9 -0.1M242.6 83.6l-2.3 -1M243.2 82.4l-2.1 -3.2M244 82l-1.5 -0.6M244.9 81.6l-2.5 -1.1M245.9 80.5l-3 -0.8M247.1 80.3l-1.4 -0.8M248.2 79.7l-0.2 -1.1M249 78.8l-1.7 -1.1M249.9 77.5l-1.3 -1.9M251.3 77.5l0.8 0.8" stroke-width="1.05"/>
<path d="M202.3 95.4 203.4 97 205.4 97.3 206.3 99 207.8 99.5 209.6 99.5 210.7 101 212.6 101.3 214.4 101.8 216.1 102.5 217.7 102.9 219.3 103.3 220.5 104.5 222.3 106.6 224.9 106.1 227 106.7 228.9 105.6 230.7 103 232 101.5 232 99.5 230 96.2 233.8 95.4 235.3 94.4 235.8 92.7 236.9 91.4 238.6 90.5 239.2 88.7 240.4 87.4 241.7 85.5 242.2 83.3 244.6 83.2 246 81.7 247.1 79.8 248.9 79.6 249.8 77.7 251.5 77.3" stroke-width="0.9"/>
<path d="M251.5 77.3 253.4 77 255.4 76.9 257.3 77.3 258.7 75.9 260.5 76 262.3 75.9 263.9 75.2 265.6 74.2 267.7 74 269.2 72.7 270.9 71.5 272.5 70.3 274.1 69.2 275.9 68.7 276.9 67 278.5 66.1 280.4 65.5 282.3 64.9 284.3 65.2 286.1 64.1 287.9 64.5 289.7 64 291.4 64 293.2 63.9 294.9 63.1 296.7 62.7 298.4 61.8 300.3 62.3 302.2 62.9 303.8 61.6 305.8 61.9 307.3 60.7 309 60.1 310.4 59.1 311.7 57.5 313 55.9 315.7 57 317.1 55.5 318.9 55 320.4 53.9 322 53" stroke-width="1.3"/>
<path d="M251.5 75.1 253.3 74.9 255.1 73.9 256.9 75.1 257.8 72.3 259.9 73.6 261 71.6 263.1 73.2 264.4 71.5 266.5 71.6 268.1 70.8 269.1 68.9 271.7 69.1 272.8 67.4 274.2 65.9 276 65.1 277.7 64.1 279.6 64.9 281.1 64.1 282.2 61.9 283.8 61.3 285.7 62 287.3 59.9 289.4 62.4 291 61 292.9 61.9 294.6 60.9 296.2 59.5 298.2 61.1 299.9 60.7 301.6 60.4 303.2 59.5 304.5 57.9 306 57.2 307.4 56.1 309.5 57.1 311.4 56.5 312.6 55 315.3 56 316.1 53.6 317.6 52.5 319.4 52.1 321 51.1" style="stroke:#2a2a2a;stroke-width:2.4"/>
<path d="M251.5 77.3l0.5 -3.3M252.6 76.7l0.2 0.3M253.4 76.9l1.3 -3M254.2 77.3l-0.7 -2.6M254.9 76.9l-1.1 -2.3M256.1 77.3l1.2 2.6M257.4 77.8l-2.1 -1.9M258.6 76.6l-0.8 -6.1M260.2 76.7l-2.4 -5.3M261.4 75.6l-1.1 2.6M262.7 76.1l-0.2 1.8M263.5 75.5l-0 -4.1M264.2 75.2l1.3 -4.9M265.3 74.4l-1 -2M266.5 74.6l-5.3 -4M267.4 73.2l-4.5 -2.1M268.3 73.1l2.6 1.9M269.4 72.4l-5.7 -4.3M270.4 71.4l-0.7 -5.2M271.5 71.3l-0.5 -1.3M272.2 70.7l1.6 1.8M273 69.6l0.9 2.9M274.3 69.5l-1.5 -5.2M275.1 68.3l-6.2 -2.8M275.9 68l0.9 0.8M276.8 66.9l-0.4 -2.1M277.8 66l0.4 -5.6M278.9 66.1l2.4 1.8M279.6 65.7l-2.1 -4.2M280.9 65.1l-0.1 2.2M282.3 65.4l1.5 -3.4M283.2 64.5l-0.9 -1M284.5 64.2l-0.3 -3.4M285.5 64.3l-1.1 -2.6M286.9 64.1l0.2 1.7M287.6 63.8l1 1.4M288.4 63.4l0.1 -4.5M289.4 63.5l-0.1 -2.4M290.9 63.8l0.2 -5M292.3 63.7l-1.8 -6.4M293.2 63.1l0.5 2M294.1 63.1l0.3 -5.1M295.4 63.4l-0.4 -0.7M296.2 63.5l1.6 -4.1M296.7 62.3l-0.3 -1.1M297.7 63.1l-0.1 -3.7M298.4 62.5l-1.1 -3.9M299.8 62.2l-0.7 1.7M300.5 62l-2.1 -6.7M301.9 61.9l-1.4 -1.8M303 61.2l1.4 -2.8M304.3 61.1l-1.8 -1.9M305.2 60.6l0.5 1.8M306.2 60.9l0 0.3M307.1 59.7l1.8 1.6M308 59.6l2.5 2.5M309 59.3l-2.4 -4.9M310.1 58.8l-1.2 -1.2M311.4 58.9l1.3 0.7M311.9 58.4l2.1 2.7M312.5 57.6l1.1 -5.7M314 57.4l0.6 -3.8M314.9 56.2l0.8 -6.3M316 56.3l-3.8 -5.9M317.2 55.3l0.8 2M318.1 54.7l0.4 0.2M318.9 54.3l0.4 -5M319.5 53.8l-4.6 -3M320.7 53.1l-3.3 -2.4M321.4 52.8l0.1 -1.4" stroke-width="1.05"/>
<path d="M251.5 77.3 253.4 78.4 255.4 79 257.3 77.3 258.2 74.4 260.5 76 262.7 77.2 263.9 75.2 266.4 75.9 267.6 73.8 269.2 72.7 270 70.4 271.2 68.6 274.1 69.2 275.4 67.9 277.4 67.7 278.5 66.1 280.9 67.3 281.9 63.4 284.8 66.7 286.1 64.1 287.8 63.5 289.6 63.6 291.5 64.6 293.1 62.7 294.9 63.1 297.1 64.9 298.4 62.2 300.3 62.5 302.1 62.5 303.8 61.6 304.7 59.1 306.9 59.8 308.9 60 310.4 59.1 313 59.8 313.7 57.2 314.5 54.6 317.1 55.5 317.8 53 319.8 52.9 322 53" stroke-width="0.9"/>
<path d="M322 53 320.3 53.7 318.8 52.2 317.1 52.5 315.6 51.3 313.6 52 312.1 50.9 310.4 50.5 312.2 49.8 314 49.9 315.8 50.4 317.5 49.9 319.3 50 320.9 49 322.4 48 324 46.8 324.2 44.9 322.7 43.8 322.4 41.9 324.6 41.6 326 39.9 328.1 39.1 329.9 37.8 329.8 35.7 331.7 34.8 333.5 34.2 335.3 33.3 334.8 30.3 337.7 30.1 337.9 27.2 336.7 25 338.8 23.7 337.1 23.2 336.3 21.4 334.8 20.7 336.6 19.3 338.8 18.6 337.9 15.6 336.8 13.8 334.8 13.1 335.6 10.9 337.4 10.8 339.3 10.6 337.9 9.1 336.2 8 336.6 5.6 338.8 4.5" stroke-width="1.3"/>
<path d="M321.7 55.2 319.9 56 318.4 54.1 316.6 54.6 316.8 51.7 313.7 53.2 312.2 52.5 311.2 51.2 310.6 49.3 308.8 49 310.4 48.4 312 47.5 313.8 48.2 315.6 49.3 317 46.9 318.9 47.8 320.8 46.4 322 44.9 322.2 42.6 320.3 41.2 321.8 40.1 323 38.5 324.9 37.9 326.8 37.2 328.5 36.2 329 34.4 330.3 33.1 332.2 33.5 333.4 32.1 332.8 29.4 334.3 27.7 336 26.1 336.8 24.6 335.8 22.9 334.6 21.4 332.6 20.7 334.2 19.9 334.9 17.8 336.9 17.5 336.1 16.9 334.6 15.8 334.2 13.7 332.7 12.5 333.8 11 335.5 10.7 337.1 10 335.2 9.7 334 8.2 334 5.9 336.2 5 337.1 3.2" style="stroke:#2a2a2a;stroke-width:2.4"/>
<path d="M322 53.2l-3.5 7.1M320.7 52.9l0.1 -3.1M319.6 52.7l-1.5 7.4M318.6 52.7l1 3.1M317.6 52.4l0 -1.3M316.1 52.8l1.3 -2M315.6 51.5l0.1 -2M314.3 51.4l-0.4 0.4M313.1 51.3l-0.9 1.5M311.9 50.8l-4.3 3M310.8 51.1l-0.8 1.7M311.4 50.2l-0.9 -2.8M312.3 50.8l-4.1 -5.9M313 49.8l-0.1 -7.5M314.1 49.9l-3.5 -4.2M315.1 49.6l-2.1 -2.9M316.3 50.6l1.5 -6.6M317 49.5l-0.4 1.5M318.1 49.9l2.7 -4.9M319.6 50.1l-1.1 -2.1M320.1 49.3l-1.5 -5.9M321.2 49.4l0.3 -5.2M322.2 48.6l-6.9 -3.8M323 47.9l3.5 0.9M322.8 46.6l1.3 -0.1M324.1 46l2.2 3.2M324.5 44.5l-1.8 4M323.8 44l-0.7 0.4M322.9 42.9l-6.4 3.2M323 41.9l3.6 -2M322.8 41.6l1 0.9M323.8 40.8l-4.1 -3.8M324.6 40.6l2.9 2.1M325.8 40.5l-5.7 -5.4M326.2 39.1l0.6 -2.9M327.8 39.4l1.4 3.9M328.5 38.4l0.4 -2.8M329.4 38.2l-1.9 -2.6M329.8 37.6l-3.3 -7M330.9 36.7l-0.6 -0M331.8 35.9l-7.5 -2.1M331.7 34.9l-2.2 -3.8M332.8 34.3l-3.5 -2M333.8 33.6l-2.5 -1.6M334.6 33.7l-0.4 -3.9M335.5 33.1l-2.4 0.9M335.2 32l-4.8 -2.9M335.2 31l-4.5 1.7M335.4 29.9l-4.3 -4M336.2 28.8l-2.5 -3.9M337 27.7l-3.7 -3.2M337.9 27.2l-5.4 -0.6M338 26.5l2.6 0.5M337.9 25.1l-0.7 -0.5M338.1 24.3l-7.4 2.5M339.1 23.2l-6.1 4.4M337.4 23.2l0.6 -1.6M336.6 22.6l-4.1 3.8M335.5 21.6l-3.3 5.3M334.9 21.1l-3.5 4M335.8 20l-1.1 -1.2M336.9 19.9l-5.4 -2.6M338.2 19.4l-5 -5.7M339 18.6l-5.2 4.1M339.1 17.5l-5.2 -0.1M338.3 16.6l-7.8 -2.6M338.2 15.7l-0.7 0.2M336.8 15.4l-2.5 0.8M336.5 14.6l-0.7 1.4M335.6 14.2l-2.5 2.4M335.4 13.2l-1.6 2.8M335.6 13l-1.5 -4.4M336.4 12.8l-4.4 -2.8M337.2 11.4l-0.4 -1.1M338.5 11.3l-7.2 -4M339.2 10.1l-0.3 0.6M338.3 9.8l-3.5 1.1M337.3 9.1l-2 6.8M336.6 8.5l-0.2 7.9M336.1 7.9l-1.7 -1.9M336.3 7.1l-5.7 -4.7M337.1 6.2l1.2 -0M337.5 5.3l-2 -2.5M338 4.8l-2.4 -0.9M339 4.8l-1.6 -0" stroke-width="1.05"/>
<path d="M322 53 319.8 57.7 318.6 54 317.1 52.5 315.2 52.8 313.8 51.5 311.6 52.6 310.4 50.5 312.3 52.3 314 51.2 315.8 51.6 317.5 49.4 319.3 50 322 50.7 322.4 48 321.9 45.6 324.2 44.9 325.4 42.2 322.4 41.9 323.4 39.4 326 39.9 327.4 37.8 329.9 37.8 332.7 37.4 331.7 34.8 333.2 33.3 335.3 33.3 334.8 30.3 338 30.4 337.9 27.2 335.9 24.9 338.8 23.7 338.6 21.2 336.4 21.4 334.8 20.7 336 18 338.8 18.6 337.9 15.6 333.9 17.4 334.8 13.1 335.8 11.3 336.3 8.9 339.3 10.6 336.9 10.3 336.2 8 337 5.9 338.8 4.5" stroke-width="0.9"/>
<path d="M178.4 54.5 180 53.4 181.8 52.9 183.7 53.8 185.5 53.5 187.1 54 188.8 54.6 189.9 56 188.4 56.8 186.6 57.1 185.5 58.6 183.5 57.8 181.3 58.4 179.3 57.6 178.4 54.5" stroke-width="1.25"/>
<path d="M312.7 77.8 314.6 76.6 315.8 74.7 317.6 73.7 319.6 73.5 321.5 73.2 323.1 74.4 324.7 75.6 326.8 75.7 328.7 75.2 330.7 75.2 332.6 74.7 334.3 74.1 335.9 74.8 337.6 73.9 339.3 74.7 341.1 74.9 342.9 74.3 344.5 73.2 346.2 72.3 348.1 72.7 349.7 73.4 351.8 72.1 353.3 72.9 354.8 74.2 355.4 76.1 357 77.3 359.1 78 361 79.3 359.7 80.3 358.1 81.1 357 82.3 354.6 82.6 352.5 83.8 351 84.8 349.2 84.7 347.4 84.8 345.9 85.8 344.4 86.6 343 87.7 340.8 86.4 339.8 88.7 337.9 88.4 336 88.4 334.2 87.2 332.2 87.8 330.4 86.9 328.6 88.1 327 87 325.4 86.8 323.7 86.4 322.3 85.7 320.6 85.3 322.7 85.2 324.2 83.8 322.4 81.3 320.5 81.6 318.7 80.1 316.7 81.3 314.9 80.8 316.4 79.6 318.3 81.1 319.7 79.1 321.5 79.8 323.2 79.3 324.6 78.3 322.9 78.8 321.2 78.5 319.5 78.5 317.8 78 316.1 77.9 314.4 77.5 312.7 77.8" stroke-width="1.25"/>
<path d="M390.2 93.9 392 95.4 389.3 96 390.2 93.9" stroke-width="1.25"/>
<path d="M415.5 101.5 416.8 104 415.5 106.1 414.1 103.5 415.5 101.5" stroke-width="1.25"/>
<path d="M406.6 110.1 408.8 109.1 410.2 111.1 407.1 111.6 406.6 110.1" stroke-width="1.25"/>
<path d="M470 5.5 471.1 7.7 473.5 8.5 474.7 10 476.3 10.5 478.3 10.2 479.3 11.9 481.1 12.1 483.5 13.1 484.2 15.6 486.6 16 487.7 18.1 488.8 20.1 490.4 21.1 493 20.2 494.4 21.7 495.9 21.2 497.4 20.5 498.8 19.7 500.2 18.7 501.8 18.2 503.2 17.1 501.3 16.6 501 14.6 502.4 13.1 504 12.7 505.6 12.7 507.5 13.8 509 13.1 510.4 11.4 512.8 12.9 514.3 11.6 512.4 12.2 510.6 12.1 508.7 12 506.8 12.9 505.4 10.1 504 8.5 501.8 9.2 499.8 9.6 498.6 7.1 496.6 7.5 495.7 5.7 494 5 492.1 4.5" stroke-width="1.25"/>
<path d="M514.3 17.1 516.2 16.5 517.7 18.8 519.5 18.7 521.5 17.2 523.2 18.1 524.7 17.4 525.9 16.1 527.6 15.6 525.7 15.4 524.1 14.4 522.6 13.3 520.9 12.6 519 12.3 517.5 13.8 515.6 13.6 515.3 15.5 514.3 17.1" stroke-width="1.25"/>
<path d="M501 4.5 502.8 4.6 504.3 5.4 506.1 5.7 507.7 6.5 509.6 5.8 511.2 7.9 513.3 6.6 515 7.6 516.8 8.7 518.7 8 520.4 8 522.1 8.9 523.7 7 525.4 8.8 527 7.5 528.7 8.1 530.4 8.2 532 7.5 534 7.9 535.5 6.3 537.2 5.6 539.3 6.6 540.9 5.5 543.1 4.5" stroke-width="1.25"/>
<path d="M396 155.8 399.1 156.1 400.4 154.3 402.6 154.3 404.4 154.2 405.7 153.1 407.9 152.5 410 153.8 412.4 153.1 414.5 152.1 416.8 152 418.7 150 420.3 152.5 422.1 152.3 423.7 151.2 425.4 150.2 427.4 150.5 427.4 149 424.8 148.5 426.1 147 429.1 146.5 428.8 143.4 428.3 141.4 426.7 141.9 425.1 140.5 423.5 141.2 422.1 138.9 420.6 137.7 420.4 135.9 418.6 133.3 415.9 132.8 414.6 130.3 414.1 127.8 411.9 126.3 410 125.3 407.9 125.8 410.2 124.2 408.8 123.2 410.6 121.7 412.4 120.2 413.3 117.7 411.6 115.8 409.7 117.9 407.9 117.2 405.8 118.1 403.5 117.7 405.7 116.2 406.9 114.5 407.5 112.6 405.5 111.9 403.5 112.6 401.3 111.2 399.1 112.6 398.2 114.6 397.9 116.5 396.4 117.7 396 120.7 394.6 122.7 396.9 124.2 395.5 126.8 396.4 129.3 398.1 128.5 399.5 127.3 400.9 128.8 399.1 130.8 398.6 131.8 401.7 132.3 403.9 132.6 405.7 131.3 406.2 133.3 407.5 135.4 408.4 137.4 407.9 138.9 406.2 139.5 404.3 138.3 402.6 139.4 400.9 139.9 401.3 141.9 403.1 142.4 403.1 144.5 401.3 145.5 398.6 146.5 398.6 147.5 400.4 147.8 402.2 148 404.3 147.9 406.2 149 409.3 148.5 407.1 150 404.8 150.4 402.6 150 401.3 151 399.1 153.1 397.4 154.3 396 155.8" stroke-width="1.25"/>
<path d="M393.8 139.4 394.6 136.4 394.2 134.4 396.9 133.3 395.7 132.1 395.1 130.6 393.8 129.6 391.9 129.1 390.2 129.8 388 129.3 386.3 130.2 384.5 130.3 383.6 132.3 384.5 133.8 382.1 133.1 380.5 134.9 378.7 134.9 376.9 134.9 377.8 136.9 376 138.4 377.9 138.6 379.1 139.9 381.4 140.4 379.9 141.4 379.1 142.9 377.8 145 375.2 145.5 376.9 147 377.8 148.5 379.6 148.4 381.4 148.5 382.7 146.8 384.9 147 386.4 146.3 388 146 389.5 145.1 391.4 145.8 392.9 145 394.2 142.9 394.6 140.9 393.8 139.4" stroke-width="1.25"/>
<path d="M393.8 113.1 391.1 114.6 389.3 117.2 388.4 120.2 389.8 120.7 391.8 119.2 392 116.7 393.3 114.6 393.8 113.1" stroke-width="1.25"/>
<path d="M392.4 117.7 394.2 118.5 396 119.2 394.6 120.7 393.1 120 391.5 119.2 392.4 117.7" stroke-width="1.25"/>
<path d="M598.5 74.2 596.3 74.4 594.1 74.7 592.7 72.6 590.6 74.9 588.9 75.3 587.4 73.7 585.6 73.7 583.9 72.9 582.1 73.4 580.3 72.8 578.6 72.7 577 71.7 575.3 71.8 573.6 72.5 571.9 72.2 570.2 71.5 568.7 70.1 566.6 70.2 568.5 70.3 569.7 71.7 571.3 72.3 572.3 73.9 573.6 75.1 575.5 75.2 575.2 77.3 574.6 79.3 575.3 81.4 576.3 83.3 578.1 84.5 580.3 84.3 582.1 85.3 583.8 85.8 585.8 85.1 587.4 86.4 589 85.1 590.5 83.8 588.2 83.1 586.5 81.3 588.3 82 590.1 81.9 591.9 81.3 593.7 82 595.5 83 597.6 82.3 598.5 82.6" stroke-width="1.3"/>
<path d="M598.5 74.5l-0.1 2.1M597.1 74.7l-0.5 0.9M595.7 74.4l3.1 3M594.4 74.1l1 2.1M593.6 74.1l-0 1.6M592.8 74.6l-2.3 2.3M592 73.9l0.9 1.8M590.8 74l-1.7 1.6M589.9 73.6l-1.8 2.3M588.8 74.3l0.1 3.5M587.7 73.8l0.6 1M586.7 74.1l-0.3 0.7M585.3 73.7l1.1 -1.1M584.3 73.7l0.8 -0.8M583.1 72.7l-1.3 4.1M582 72.6l-0.4 -1.1M580.7 73.2l-0.1 0.7M579.7 73.2l-2.2 2.2M578.7 72.9l0.2 4.3M577.8 72.6l-1.6 3.1M576.5 73.1l0.8 3M575.6 72.9l0.2 -0.7M574.4 72l1.4 2.6M573 72.6l0.5 0.8M572.2 72.6l-0.7 2.8M571.4 71.7l-2.2 1.3M570.5 71.3l-0.5 2M569.3 70.7l-1.3 4.4M568.2 71.1l-0.8 1.5M567.5 70.6l-2.3 1.5M566.8 70.6l-0.3 0.4M568 70.7l-1.2 0.9M568.6 71.8l0.4 -2.4M569.6 71.6l0.1 -1.2M570.7 72.3l1.9 -4.4M571.8 72.5l-0.1 -2.8M572.7 72.9l-0.2 1.2M573.4 74.3l3 -2.4M574.4 75l0.1 1M575.6 75.5l2.1 2.3M575.3 76.8l1.2 -0.4M574.6 77.8l1.7 1.2M574.6 78.6l3.2 3.5M574 79.5l0.5 -0.7M574.6 80.8l2.8 -0.4M575.7 82l-0.8 1M576.5 82.6l1.9 -2.1M576.7 84l3.5 -2.3M577.8 83.5l-0.2 -1.3M578.6 83.6l1.2 -2M579.5 84.8l-1 0.8M581 85.1l1 -1.5M581.7 85.5l2.6 -2M582.9 86l1.6 -3.7M584 86.3l0.4 -2.1M585.3 86.4l-2.1 -4.3M586.2 85.9l-0.1 -3.5M586.8 86.8l0.1 2.4M587.9 86.6l-1.7 -3.7M588.4 85.4l1.3 0.9M589.3 84.3l0.7 0.6M590.6 83.3l0.1 -0.3M589.2 83.3l-1.2 0.6M588.5 82.6l-3 2M587.9 81.8l-1.5 3.8M586.6 81.4l-0.7 3M587.4 81.6l0.5 -1.3M588.2 81.1l0.6 -1.1M589.2 80.9l-1.8 -3.1M590.3 81.1l1.2 -4.1M591.4 81l-0.1 1.6M592.7 81.4l-1.7 -3.5M594.1 81.3l1.3 -1.3M594.8 81.8l-0.7 -1.6M596 82.4l-0.5 2.2M597.5 81.7l2 -3.7" stroke-width="1.05"/>
<path d="M598.5 74.2 596.3 74.4 594.1 74.7 592.7 72.5 590.6 75 589 74.3 587.4 73.7 586 70.4 584 72.4 582.2 72.6 580.5 71.8 578.6 72.7 576.9 72.6 575.1 73.8 573.5 72.9 571.9 72.2 570.6 70.4 568.6 70.3 566.6 70.2 568.2 70.9 569.7 71.7 570.7 73.2 572.3 73.9 574.2 74.1 575.5 75.2 574.2 77.1 574.6 79.3 575.4 81.3 576.3 83.3 577.3 86.7 580.1 84.9 582.1 85.3 584.1 84.4 585.5 87 587.4 86.4 589.8 86.1 590.5 83.8 587.8 83.7 586.5 81.3 588.3 80.2 590.1 81.5 591.9 81.3 593.7 81.9 595.5 82.9 597.6 82.3 598.5 82.6" stroke-width="0.9"/>
<path d="M598.5 65.6 596.1 65.8 594.1 64.6 592.1 63.3 589.6 63.1 587.7 62.9 586 62 584.1 61.4 582.2 61 580.8 59.6 579.2 57.7 577.2 59.4 575.4 59.2 573.8 58 571.9 58.6 569.7 58.7 567.5 58.1 565.9 57.5 564.4 57.1 563 56 561.3 56.2 559.5 54.8 557.7 56" stroke-width="1.25"/>
<path d="M557.7 56 555.9 55.3 553.8 56.5 552 55.5 549.8 53.5 549.3 51 546.9 51.4 545.3 50.5 543.5 51 541.8 50.8 540 50.5 538.3 49.9 536.5 49.5 534.7 49.5 532.9 49.2 531.4 50 529.8 50.5 528.1 51.3 526.1 51 524.5 52 522.7 53.3 520.5 51.9 518.7 53 516.4 53 514.3 54 512.5 54.1 510.9 55.2 509 55 506.9 56.3 504.6 56 502.6 56.3 501.7 59.2 499.2 58.1 497.6 58.6 495.9 59.1 494.4 60.1 492.5 60.9 490.8 62.1 489.5 63.4 487.4 63.5 486.4 65.1 484.8 66.9 482.8 68.2 480.7 69.3 479.3 71.2 478.1 72.6 477.1 74.2 476.8 76.1 475.3 77.3 474.2 79.2 472.2 80.3 470.8 82 468.7 82.3 467.2 83.4 466 84.8 463.8 85.1 462.5 86.9 460.6 87.4 458.9 88.4 457 88.3 455.5 89.4 454 90.4 452.5 90.9 450.8 91.2 449.6 92.4 448.3 93.6 446.6 93.8 445.2 94.4 444.6 96.2 443.4 97.5 443 100.5 443.4 103.5 444.5 105.1 444.7 107.1 446.3 108.5 445.6 110.6 446.9 112.6 447.9 114.6 450 115.2 451.8 115.3 453.6 115.7 455.7 115.7 457.6 114.6 459.1 113.2 461.1 112.6 462.9 111.7 464.7 110.6 467.3 109.1 467.8 107.5 468.7 106.1" stroke-width="1.3"/>
<path d="M557.7 56.2l0.9 5M556.4 55.4l-0.9 1.5M555.5 55.9l-2 3.2M554.5 55.6l0.2 0.8M553.8 55.4l0.4 0.6M552.5 55.8l2.4 3.7M551.4 55.5l-1.3 1.5M550.9 54l-4.2 0.8M549.8 53.8l-0.5 3.9M549.1 52.8l1.3 -1.8M547.9 52.5l0.9 -0.9M547.4 51.2l-2.7 3.2M545.8 50.9l-0.8 5.3M544.6 50.8l-0.2 4.4M543.8 50l1.1 3.9M542.4 50.7l-0.5 1M541.1 50.3l-1.5 4M539.8 50.7l0.2 -1.3M539.2 49.9l0.1 -0.8M538.5 49.7l0.2 0.8M536.9 50.3l0.3 -1.4M535.6 49.9l0.6 5.4M534.4 49.6l-0.2 0.6M533 49.9l0.4 1.5M531.9 49.5l0.6 0.5M530.9 50.2l-2 4.3M530.1 50.5l-0.6 -0.5M529.3 50.3l2.1 2M528.1 50.8l2.3 4.2M527.2 51.7l3.2 4.1M526 51.3l1.5 3.7M525 51.7l2.3 3.1M523.9 52.5l0.3 0.8M522.6 52.3l0.3 2.7M521.6 52.5l0.1 1M520.6 52.6l1.2 1.6M519.7 53.1l0.2 4.6M518.2 52.6l1.5 5.1M517.2 53.4l2.2 4.2M516.5 54l-0 1.5M515.2 54.2l1.8 3.2M514.3 53.9l0.4 0.7M513.5 53.9l-0.2 2.2M512.7 54l0.3 0.9M511.5 54.3l-0.7 3.3M510.5 54.8l1.8 1.8M509.6 54.9l2.3 4.8M508.3 54.8l-1 3.1M507.6 55.8l0.9 3.6M506.3 56l-0.5 -0.4M504.8 55.4l-2 4.4M503.8 56.9l-1 -0.6M502.5 56.3l0.9 0.7M501.6 57l2.8 2.6M500.4 57.9l0.4 5.2M499.3 58.3l0.2 0.8M498.2 58.5l0.4 0.8M497 59.3l0.3 3.2M495.7 59.1l3.2 4.1M495 60.3l-1.1 4.8M494.1 60.6l1.8 3.6M492.9 60.5l0.2 0.7M492.2 61.3l-0.2 -2.5M491.1 61.5l0.2 2.9M490.5 62.2l1.1 2.1M489.8 62.4l1.8 1.5M489.2 63.9l1.9 4.7M488.3 63.8l-2.5 -1.1M487.2 64.3l4.1 2M486.7 65.2l1.5 2.4M485.5 65.5l1.5 2.7M485.2 66.7l3.7 2.3M484.2 67.4l3.6 1M483.4 68.5l-1.7 -1.6M481.8 68.6l2.5 3M481.2 69.5l1.8 4.1M480.6 70.2l2.7 4.1M479.2 70.7l3.4 3.2M478.6 71.7l-0.4 -0.4M478.6 73l0.5 0.6M477.7 73.7l3.2 -0.1M477.1 74.6l4.9 2.2M476.5 75.5l-0.6 0.1M475.5 76.3l0.9 0.5M475.5 77.7l0.7 0.5M474 77.8l-1.2 -1.2M473.9 78.8l3.9 1.3M472.5 79.4l1.4 1.5M471.7 80.6l3.1 2.1M470.6 80.9l-0.2 4.6M469.6 81.6l0.6 0.7M469.1 82.6l0 -0.3M468 82.5l4.5 2.4M467.3 83.3l-2.7 -0.3M466.8 84l0.5 3.4M465.9 84.3l1.8 0.3M465.3 85.5l0.7 0.5M464.3 85.8l-1.7 -1M463.3 85.9l3.9 1.9M462.8 87.1l3.6 3.9M461.4 87.5l2.6 1.6M460.1 87.8l4.4 2.4M459.3 88.5l-0 0.8M458.1 88.3l0.8 4.7M457.3 89.6l4 3.6M455.6 89.4l3.1 4.2M454.9 89.7l-0.5 -2.4M454.2 90.3l-1.5 -1.7M453.2 90.3l2.8 2.7M452.4 91.4l-1 -1M450.9 91.5l1.4 4.8M450.2 92.1l-0.7 -1.3M449 92.7l-0.3 2.7M447.8 93l1.2 2.2M446.8 93.5l-0 -0.5M445.6 93.8l1.7 3.8M445.2 94.8l-0.6 -0.2M444.5 95.3l0.7 1.3M443.9 96.4l3.6 1M443.1 97.6l4.9 -0.9M442.9 98.7l-2.3 0.3M443.1 99.9l1 -0.5M442.8 100.8l4.9 1.4M442.7 102.3l1.4 0.2M443.1 103.3l-0.5 0.4M444.1 104l5 0.6M444.1 104.9l4.4 -1.8M443.8 105.8l3.2 0.4M444.9 106.2l1.3 0.5M444.5 107.3l-1.9 0.2M444.9 108.4l-0.5 0M445.3 109.6l4.1 0.6M445.3 111l-0.8 0.1M446.5 111.2l1.8 -0.5M446.8 112.6l2.2 -1.1M448 112.9l3.6 -0.8M448.8 114l-0.5 0.4M449.6 115.2l-0.6 0.7M451 115.3l-0.7 -3.2M451.7 115.9l-0.9 2.3M452.9 115.8l-0.8 -2.6M454.1 115.7l0.9 -2.2M454.9 115.6l1.1 -5.1M455.4 114.6l-0.5 -0.7M457 115.2l-2.5 -2.3M458.3 114.2l-1.1 -1.2M459.2 113.5l-3 -4.3M460.2 113.4l1.6 1.3M460.6 112.6l-1.1 -1.1M461.5 112.5l-0.8 -3.4M463 112.2l-2.6 -3.3M464.2 111.4l-1.7 -2.4M465.2 110.6l-0.1 -3.6M466.4 109.8l0.2 -2.6M466.9 108.9l-1.2 -0.4M467.6 108l-4.1 -1.8M468.4 107.4l-4.3 -3.1" stroke-width="1.05"/>
<path d="M557.7 56 555.8 56.2 553.8 56.2 552 55.5 549.8 53.5 547.5 53.6 546.8 51.5 545.3 50.5 543.5 49.9 541.8 52.7 540 50.5 538.4 49.4 536.4 50 534.7 49.5 532.8 48.6 531.3 49.6 529.8 50.5 527.9 50.4 526.5 52.4 524.5 52 522.4 51.1 520.8 53.3 518.7 53 516.6 53.8 514.3 54 512.5 54.4 510.6 53.7 509 55 506.4 54.1 504.6 56 503 57.3 501.7 59.2 499.2 58.1 497.5 58.5 496.8 61.3 494.4 60.1 492.3 60.6 490.8 62.1 489.6 63.4 486.6 62.3 486.4 65.1 486.9 69.3 482.8 68.2 482.6 71.5 479.3 71.2 478.7 73.1 477.1 74.2 475.5 75.4 475.3 77.3 473.5 78.5 472.2 80.3 469.8 80.2 468.7 82.3 467.8 84.1 466 84.8 464 85.5 462.5 86.9 461 88.3 458.9 88.4 457.1 88.6 455.2 88.6 454 90.4 453.2 92.4 452.2 94.2 449.6 92.4 448.1 93.1 445.7 91.6 445.2 94.4 444.9 96.3 443.4 97.5 443 100.5 443.4 103.5 444.3 105.2 444.7 107.1 445.2 108.8 445.6 110.6 446.9 112.6 446.8 116 450 115.2 451.7 116 453.6 115.7 455.6 115.2 457.6 114.6 460.1 115 461.1 112.6 462.9 111.7 464.7 110.6 467.3 109.1 466.7 107 468.7 106.1" stroke-width="0.9"/>
<path d="M468.7 106.1 469.5 109.1 471.3 110.1 471.6 112 473.1 113.1 473.7 114.9 474 116.7 474.7 118.3 475.7 119.7 477 121.1 478 122.7 477.1 125.3 477.9 126.7 478.4 128.3 481.5 128.8 482.9 127.8 484.6 127.8 485.9 125.3 487.7 124.7 489.5 126.4 491.3 125.3 492.8 124.2 493.9 122.7 494.2 120.7 494.8 118.7 494.9 116.9 495.2 115.2 495.8 113.2 497.5 112.1 499 110.9 501 110.6 502.9 109.8 504.6 108.6 505 105.6 502.8 104.6 501 103 500.1 101 497.9 101 496.6 98.6 498.3 96.5 500.4 95.6 500.1 93.4 502.3 92.5 504.1 90.9 505.9 90.1 507 88.4 509 87.9 510.6 87.6 512.2 87.2 513.4 85.8 515.4 84.5 517 82.8 516.5 79.8 517.9 78 520.1 77.3 521.6 76.4 523.3 76.5 524.9 76.2 526.6 75.8 528.2 76.8 529.8 76.2 531.6 77.5 533.4 78.8 532.9 81.3 530.9 82.3 528.9 83.3 527.7 84.6 526.1 85.3 524.5 85.8 522.7 86.1 521.3 87.2 520.1 88.4 519.1 89.9 516.9 89.8 516.1 91.4 515.9 93.4 515.6 95.4 515.7 97.5 516.5 99.5 516.1 102 517.1 103.4 518.7 104 520.4 105 522.3 105.6 524.5 106.6 526.7 105.6 528.6 105.5 530.4 105.1 532 104 533.8 104.4 535.6 104.4 537.3 103.5 539.1 103.2 540.9 103.4 542.7 103 544.4 102.2 546.2 103.1 548 102.5 549.9 103.3 551.5 104.5 553.4 105.1 555.1 106.1 553.3 106.7 551.5 105.6 549.8 106.1 548.5 107.2 546.9 107.5 545.3 108.1 543.7 107.9 542 108.3 540.3 108.4 538.7 108.1 536.8 108.1 534.8 108 532.9 108.1 530.7 108.3 528.5 108.6 526.9 109.2 525.4 110.1 525.4 112.6 526.8 113.7 528.5 114.1 528.7 116 529.4 117.7 528.5 120.2 526.5 120.6 524.5 120.7 523.5 118.7 521.4 117.7 519 117.4 517 118.7 516.4 120.4 514.7 121.2 514.3 123 514.7 124.8 515.2 127.8 515.2 129.8 513.8 130.9 512.1 131.3 510.3 132.2 508.5 133.3 506.3 133.8 503.7 133.8 503.2 132.1 501 132 498.8 131.8 497 131.7 495.5 132.7 493.9 133.3 492.3 134.3 490.5 134.7 488.6 134.9 486.6 136.2 484.2 136.4 482.4 136 481.5 134.4 479.9 133.1 478 133.8 476 134.4 474 134.9 472 135.4 470 135.9 469.1 134.4 467.6 133 465.6 133.3 465.1 130.8 464.2 128.3 466.9 127.3 465.6 125.3 467.8 123.2 466.7 121.6 466.9 119.7 468.2 117.2 466.8 118.3 465.1 118.2 464.1 119.7 462.5 120.2 459.3 120.2 458.2 121.7 457.1 123.2 456.8 125.6 457.6 127.8 458.3 129.4 459.3 130.8 459.6 133 460.7 134.9 459.3 136.4 456.7 137.9 454.6 139.2 452.3 138.9 450.1 138 447.8 138.6 446.5 139.8 445.7 141.7 443.4 140.9 442.1 143.4 440.3 145.5 439 146.5 436.7 148.5 434.5 149.5 432.3 150.5 430.4 151.2 428.3 151.5 428.3 153.3 427.9 155.1 425.9 155.5 424.2 156.5 422.6 157.6 420.4 159.6 418.1 159.8 415.9 159.1 415.5 157.6 412.8 157.6 413.6 159.8 414.1 162.1 412.1 162.3 410.2 163.2 407.9 162.6 405.7 162.1 403.4 162.1 401.3 163.2 400.4 164.7 402.2 166.7 403.8 167.7 405.7 167.7 407 168.8 408.7 168.9 410.2 169.7 412.4 171.7 413.3 173.4 414.6 174.8 415.1 176.3 415.9 177.8 415.4 179.5 416.5 181.2 415.9 182.9 415.9 184.8 415 186.6 414.6 188.4 413.3 189.4 411.5 187.9 409.7 189.9 407.9 189.4 406.3 188.8 404.6 191.2 403 188.7 401.3 189.4 399.5 189.7 398 188.6 396.2 189.2 394.6 188.4 392.9 188.8 391.3 188.7 389.8 186.5 388 187.9 386 187.8 384.5 188.9 382.7 190.4 380.5 190.4 380.6 192.4 381.8 194 380.4 195.9 382.2 197.5 382.1 199.6 382.7 201.6 381.9 203.2 381.6 204.9 381.4 206.6 380 208.1 379.6 210.1 380.5 213.2 382.2 215.2 382.2 217.2 382.8 219.6 381.8 221.8 383.8 221.2 385.8 221.8 387.3 221.1 388.9 220.8 390.7 222.2 392.9 222.8 394.6 225.3 396.4 226.8 397.5 226.1 399.8 225.6 401.3 223.8 403 223.9 404.6 223.4 406.3 223.5 407.9 223.3 410.2 223.2 412.4 222.8 413.6 221.3 414.6 219.7 416.4 219.5 418.1 218.7 420.4 217.6 419.5 215.2 420.4 213.5 422.1 212.7 421.1 211.1 419.9 209.6 419.9 207.3 422.1 206.6 423.4 204.8 424.8 203.1 425.7 201.1 427.6 201.2 429 199.3 431 199.5 432.4 198.7 434 198 435.4 197 435 194 434.5 191.5 436.4 190.4 438.1 188.9 440.3 189 442.5 189.4 443.7 191 445.6 190.4 447.8 191.3 450 190.9 451.6 189.9 452.7 188.2 454.5 187.4 456 186.6 457.3 185.5 458.9 184.9 461 186 463.3 185.9 464.9 186.6 466.4 187.4 467.8 189.2 467.8 191.5 468.8 193.5 470.9 194.5 472.5 195.2 473.6 196.9 475.3 197.5 476.6 199.6 478.8 200.5 480.9 201.9 483.3 202.1 485.5 203.6 487.7 205.6 489.3 205.9 490.8 206.6 491.3 208.3 491.3 210.1 493 212.7 492.2 214.8 490.8 216.7 492.6 217.2 493.7 216 494.8 214.7 496.4 213.5 497 211.7 495.5 210.4 494.8 208.6 495 206.5 496.1 204.6 498.8 205.1 501.2 204.7 503.2 206.1 502.1 204.6 501 203.1 499.7 202.1 498.5 200.8 496.6 201.1 495.2 200.2 493.7 199.5 492.1 199 490.4 198.6 489.4 196.9 487.7 196.5 486.2 195.5 485.1 194 483.3 193.5 482.2 192.1 481.9 190.5 481.5 188.9 480 187.6 478.7 185.9 476.6 185.4 475.9 183.8 476.7 181.9 475.7 180.3 478.3 180.3 478.8 177.8 482 178.3 481.5 180.8 483.3 181.9 485.5 180.3 485.7 182.7 487.7 183.9 489.2 185.2 490.6 186.5 491.3 188.4 494.4 188.9 495.9 189.6 497.2 190.9 498.8 191.5 500.1 192.6 501.9 192.8 503.2 194 504.1 195.5 505.4 196.5 506.1 198.2 507.7 199 507.2 200.8 507.2 202.6 506.8 204.6 508.6 206.1 509.9 208.1 511.5 209.8 513 211.7 514.4 213.2 514.7 215.2 515.3 217 517 217.7 517.4 220 517.4 222.3 518.7 223.9 520.5 224.8 522.3 222.8 523.6 224.3 524.1 222 523.2 219.7 524.3 218.2 525.4 216.7 527.6 215.7 526.2 214.8 525 213.6 524.1 212.2 522.3 209.6 524.5 209.1 524 207.4 523 206 521.4 205.1 523.2 203.6 524.9 203 526.7 202.6 529.8 202.1 531.9 203.6 534.2 202.6 536.1 203 537.8 202.1 539.1 204.1 537.3 206.1" stroke-width="1.25"/>
<path d="M598.5 222.8 596.8 222.6 595.2 223.5 593.4 222.4 591.7 222.3 590.1 222.7 588.4 223.7 586.7 222.6 585 223.8 583.3 223.3 581.7 223.3 581.7 225.3 580.3 226.8 580.8 228.6 580.3 230.4 579.6 232.5 578.6 234.4 577.1 235.8 577.7 238 576.3 239.5 575.5 241.1 575.8 242.8 575.9 244.5 575.6 246.3 575 248 574.1 249.6 572.8 250.6 571 250.5 569.3 251.3 567.5 251.6 565.8 250.7 563.9 250.6 562.1 250.6 560.2 251 558.6 249.6 556.5 250.7 554.2 251.1 552.2 252.5 549.8 252.6 547.8 253 546.1 252.6 545 250.5 543.1 250.6 541.3 251 539.8 249.5 537.9 250.2 536.4 248.9 534.5 249.7 532.9 249.1 531.3 248 529.1 248.4 527.6 247 525.9 246.3 524.3 245.5 523.2 244 521.4 244.1 519.8 243.2 518.5 241.5 516.5 242.5 514.8 243.1 513.3 244.1 511.5 244.4 510.3 246 509.4 248 510.2 250.1 509.4 252.1 508.1 253.2 506.4 254.1 505.4 255.6 504.4 254.1 502.8 253.3 501 253.1 499.1 253.2 497.6 251.5 495.5 252.2 493.9 251.2 492.1 250.6 490.5 249.2 490.5 246.9 489 245.5 487.2 245.3 485.6 244.6 483.8 244.5 482.3 243.2 480.8 242.2 478.8 242.5 477.4 241 475.6 241.4 473.8 241.5 472.2 241 470.4 240.4 468.6 239.9 467.8 237.9 466.8 236.5 466 234.9 467.6 233.8 468.7 232.3 470 230.9 468.7 229.5 469.2 227.5 467.7 226.2 467.8 224.3 469.5 223.5 470.4 221.8 468.4 221.2 466.4 220.8 464.7 221 462.9 221 461.1 220.8 459.3 219.8 457.7 220.7 456.1 221.1 454.5 221.8 452.9 223.3 451.1 221.5 449.5 221.8 447.8 222.3 446.2 222.5 444.5 222.7 442.8 222.8 441.2 222.3 439.5 222.6 437.8 222.3 436.2 222.4 434.5 222.8 432.9 223.3 431.2 223.4 429.4 222.7 427.9 223.8 426.2 224.5 424.9 226.2 423 226.6 421.2 227.3 419 228.1 416.8 228.8 415.2 229.5 413.7 230.3 412.4 231.4 410.8 230.8 409 231.6 407.4 230.9 405.7 230.9 403.5 230.5 401.3 230.9 399.7 230.1 399.1 228.3 397.8 227.3 394.6 227.8 394.1 229.9 393.3 231.9 392.3 233.4 391.4 235 391.1 236.9 390.1 239.4 387.6 238.9 385.3 239.4 383.6 241 381.9 241.7 381.4 243.6 380 244.5 379.7 246.4 378.8 248 377.8 249.6 378.1 251.2 377.8 252.9 378.3 254.6 377.8 257.6 376.8 259.9 374.7 261.2 372.7 262.2 371.2 263.7 370.3 265.7 368.9 266.7 367.3 267.1 365.7 267.6 364.1 267.7 363 269.1 361.4 269.8 359.8 270.9 359.1 272.7 357.6 273.9 357 275.8 356.7 277.5 356.6 279.3 355.1 280.6 355.2 282.4" stroke-width="1.25"/>
<path d="M537.3 206.1 537.3 209.1 539 210.7 540 212.7 538.7 215.2 540.2 216.3 541.8 217.2 542.4 219.5 542.2 221.8 543.7 222.6 545.3 222.8 547.5 223.5 549.8 223.8 551.5 223.4 553 224.6 554.8 224 556.4 224.3 558.9 224.3 560.8 222.8 562.3 224 563.4 225.7 565.3 226.3 567.4 225.4 569.7 225.8 571.6 225 573.4 224 575 222.8 576.7 223.5 578.6 223.8 581.7 223.3" stroke-width="1.25"/>
<path d="M539.1 204.1 541.2 203.9 543.1 204.6 544.8 204.8 546.4 204.6 548.1 204.1 549.8 204.6 550.1 202.8 550.6 201.1 548.8 200.8 547 200.9 545.3 201.6 543.1 202.1 540.9 202.1 537.8 202.1" stroke-width="1.25"/>
<path d="M598.5 189.4 597.1 188 596.6 185.6 594.1 185.4 592 184.1 589.6 183.9 588.5 182 586.5 181.3 584.4 181.7 583.4 179.8 581.7 179.5 580.3 181.1 578.6 180.8 577.4 182.3 575.7 182.7 574.1 183.4 571.9 183.5 569.7 183.9 568.1 182.6 566.8 181 565.7 179.3 567.9 178.3 569.7 176.8 567.8 176.8 566.6 175 564.9 174.4 563 174.3 560.7 174.2 558.6 173.3 556.9 174.1 556.6 176.3 555.1 177.3 553.9 179 552.4 180.3 551.1 181.9 549.2 182.8 548.4 184.9 548.7 186.7 548.3 188.3 547.5 189.9 546.6 191.2 545.4 192.4 544.9 194 545.8 196.2 545.3 198.5 546.7 199.4 548.3 199.9 549.8 200.5 551.4 200 553.1 201 554.7 200.1 556.4 200.5 558.6 200 560.8 200 562.3 199.2 563.7 198.2 565.3 197.5 567.4 196.5 569.7 196.5 571.4 196.6 573 197 574.7 196.7 576.3 196.5 578.5 197.4 580.8 198 582.4 198.9 584 199.6 585.2 201.1 586.8 201.4 588.6 201.3 590.1 202.4 591.9 202.1 593.5 202.4 595.2 202.1 596.8 201 598.5 201.6" stroke-width="1.25"/>
<path d="M576.3 179.3 577 177.1 578.6 175.3 580.3 175.2 581.8 174.3 583.6 174.2 585.2 173.8 587 173.2 588.8 172.8 590.1 171.3 591.9 170.7 595 171.2 593.7 172.4 592.4 173.4 590.7 173.9 589.6 175.3 588.6 177.1 587.4 178.8 585.4 179.1 583.4 179.8" stroke-width="1.25"/>
<path d="M459.3 201.6 461.4 201.5 463.3 200.5 463.1 202.6 464.7 204.1 465.1 205.8 463.3 207.2 463.3 208.9 463.8 210.7 461.1 211.7 458.5 211.2 458.2 209.1 458.7 207.1 458.9 205.1 458.5 203.4 457.6 202.1 459.3 201.6" stroke-width="1.25"/>
<path d="M459.3 196.5 460.2 194.7 462.4 194 462.9 192 463.8 193.5 463.2 195.4 463.7 197.6 462.9 199.5 460.2 198.5 459.3 196.5" stroke-width="1.25"/>
<path d="M476.2 216.7 477.8 216.2 479.6 216.6 481.1 215.7 482.9 216 484.8 215.5 486.6 215.4 488.5 215.7 490.4 215.2 489.5 216.8 489.1 218.6 488.2 220.3 488.2 223.3 486.4 222.6 484.6 221.8 483.2 220.9 481.6 220.7 480.2 219.7 478.4 219.9 477.1 218.7 476.2 216.7" stroke-width="1.25"/>
<path d="M525.4 228.8 527.6 229.3 529.8 229.9 531.5 229.6 533 230 534.6 230.5 536.1 231.1 537.8 230.9 536.1 231.7 534.2 232.1 532.6 231.6 530.9 231.8 529.2 232 527.6 231.4 526.6 230 525.4 228.8" stroke-width="1.25"/>
<path d="M564.4 231.9 566.3 231.1 567.9 229.7 569.7 228.8 571.2 228 572.9 228.2 574.6 228.3 573.4 229.6 572 230.5 571 231.9 569.4 232.8 567.5 233.4 565.7 233.9 564.4 231.9" stroke-width="1.25"/>
<path d="M431.9 208.6 433.6 207.7 435.4 207.1 436.3 209.6 433.6 209.9 431.9 208.6" stroke-width="1.25"/>
<path d="M426.6 212.2 428.3 211.2 427.9 212.7 426.6 212.2" stroke-width="1.25"/>
<path d="M523.2 212.2 524.9 212.9 526.8 212.9 528.5 213.7 529.8 216.2 528.1 215.4 526.3 214.7 524.9 213.1 523.2 212.2" stroke-width="1.25"/>
<path d="M544 225.8 546.2 224.8 544.9 227.3 544 225.8" stroke-width="1.25"/>
<path d="M536.5 210.1 539.1 210.1 537.8 211.7 536.5 210.1" stroke-width="1.25"/>
<path d="M509.9 208.1 508.5 207.6 510.3 209.6 509.9 208.1" stroke-width="1.25"/>
<path d="M345 243 347.2 243.2 345.9 243.7 345 243" stroke-width="1.25"/>
<path d="M346.3 264.2 348.1 264.1 349.9 264.5 349 265.9 348.1 267.2 347.4 265.7 346.3 264.2" stroke-width="1.25"/>
<path d="M351.2 266.2 353 266.7 352.1 268.5 351.2 266.2" stroke-width="1.25"/>
<path d="M357.4 263.7 359.6 263.7 358.8 266.2 357.4 263.7" stroke-width="1.25"/>
<path d="M360.1 261.2 361.9 261.2 361 262.9 360.1 261.2" stroke-width="1.25"/>
<path d="M306.9 217.2 310 217.5 308.2 218.2 306.9 217.2" stroke-width="1.25"/>
<path d="M294.5 213.7 297.6 214.2 295.4 214.7 294.5 213.7" stroke-width="1.25"/>
<path d="M299.8 212.7 301.6 213.2 300.7 213.7 299.8 212.7" stroke-width="1.25"/>
<path d="M133.9 245.3 134.7 245.5" stroke-width="1.25"/>
<path d="M501.9 116.2 503.3 117.1 505 117.7 504.1 119.7 501.9 118.7 501.9 116.2" stroke-width="1.25"/>
<path d="M493.9 124.8 495 123 496.1 121.2 495.2 124.2 493.9 124.8" stroke-width="1.25"/>
<path d="M470 127.3 471.6 126.5 473.1 125.7 474.9 125.3 477.1 127.3 475.6 128.4 474.4 129.8 471.3 129.8 470 127.3" stroke-width="1.25"/>
<path d="M464.7 129.3 466.6 128.5 468.7 128.3 468.2 130.8 465.6 130.3 464.7 129.3" stroke-width="1.25"/>
<path d="M518.7 112.6 520.9 112.9 523.2 112.6 522.3 114.6 520.5 114.5 518.7 114.6 518.7 112.6" stroke-width="1.25"/>
<path d="M520.1 111.1 522.7 110.6 521.8 111.6 520.1 111.1" stroke-width="1.25"/>
<path d="M478.8 65.1 480.5 64.6 482.1 63.8 483.8 63.5 485.5 63.1 486.6 61.6 488.7 61.9 489.9 60.6 487.8 61.7 485.5 62.1 484.2 63.2 482.4 63.1 481.1 64.1 478.8 65.1" stroke-width="1.25"/>
<path d="M554.2 99.5 556 99.5 557.4 98.1 559.2 98 560.8 97.5 562.8 98 564.7 98.6 566.6 99.5 566.1 101.3 564.8 102.5 563.3 103.8 561.2 103.3 559.5 104 557.6 103 555.5 103 554.8 101.3 554.2 99.5" stroke-width="1.25"/>
<path d="M573.7 92.9 575.4 92.6 577 92.1 578.6 91.4 580.1 93.1 581.7 94.9 580.3 97.5 578.1 98 576.3 99.5 575.7 97.8 574.1 97 574.1 94.9 573.7 92.9" stroke-width="1.25"/>
<path d="M476.6 109.1 478.6 109.1 480.5 108.7 482.4 109.1 483.3 112.1 481.2 112 479.3 112.6 477.6 112.8 476.2 113.6 476.4 111.4 476.6 109.1" stroke-width="1.25"/>
<path d="M484.2 111.1 485.9 113.6 486.8 116.2 485.5 116.7 484.1 115.2 483.7 113.1 484.2 111.1" stroke-width="1.25"/>
<path d="M84.4 51 86.2 51.2 88 51.4 89.8 52 88.9 54 87 54.3 85.3 53.3 83.6 53 84.4 51" stroke-width="1.25"/>
<path d="M100 71.2 101.7 71.8 103.7 71.6 105.6 71.4 107.2 72.8 108.8 73.7 106.6 75.7 105.2 74.8 103.6 74.2 101.9 74.1 100.4 73.5 98.6 73.7 100 71.2" stroke-width="1.25"/>
<path d="M86.7 81.3 88.6 81.7 90.5 81.8 92.4 82.3 90.6 84.3 88.8 84.5 87.2 83.1 85.3 83.3 86.7 81.3" stroke-width="1.25"/>
<path d="M31.3 25.7 32.7 27.2 34.5 26.6 36.1 27.6 37.9 26.7 36.6 28.8 34.6 27.9 32.4 28.4 30.4 27.7 31.3 25.7" stroke-width="1.25"/>
<path d="M51.2 57 53.3 57 55.2 58.1 53.9 59.6 51.8 59.2 49.9 58.6 51.2 57" stroke-width="1.25"/>
<path d="M24.6 54 26.6 54.2 28.5 53.8 30.4 53 30.8 54.8 32.1 56 30.3 55.9 28.8 57.7 26.8 57 26.1 55.2 24.6 54" stroke-width="1.25"/>
<path d="M42.3 66.1 44.3 66.7 46.3 66.6 48.1 67.7 46.3 69.7 44.7 68.5 42.9 68.4 41 68.2 42.3 66.1" stroke-width="1.25"/>
<path d="M67.6 121.7 69.1 122.8 71.1 123.4 71.1 125.8 68.5 126.8 67.7 125 66.3 123.7 67.6 121.7" stroke-width="1.25"/>
<path d="M65.4 94.9 67.2 95.1 68.5 96.5 66.3 97.5 65.4 94.9" stroke-width="1.25"/>
<path d="M131 96.5 133.2 96.6 135 98 133.2 99.5 131.6 98.3 131 96.5" stroke-width="1.25"/>
<path class="sp" d="M98 150.2 97.7 151.1 96.8 151.1 96.7 150Z"/>
<path class="sp" d="M73.1 151.9 73.5 151.4 74.6 151.7 74.6 152.2 74.1 152.4 73.2 152.8 72.8 152.3Z"/>
<path class="sp" d="M80.5 157.3 82 157.9 80.9 158.6 79.4 158.8 78.1 158.2 78.9 157.4Z"/>
<path class="sp" d="M93.8 146.1 94.2 147.7 92.2 147.4 91.9 146.3Z"/>
<path class="sp" d="M135.5 123.4 133.8 123.2 134 121.9 136.5 122.4Z"/>
<path class="sp" d="M124.8 124 124.1 124.3 123.2 123.7 124.4 123.2Z"/>
<path class="sp" d="M100.6 125 101.4 124.4 102.2 125.1 102.4 126.1 101.4 126.5 100.4 126.4 100.1 125.6Z"/>
<path class="sp" d="M118.7 120.2 117.5 120 117.6 119.3 118.9 119.5Z"/>
<path class="sp" d="M96.7 132.2 93.7 132.3 93.9 131 96.1 131Z"/>
<path class="sp" d="M86.3 162.7 87.9 163 88 164.2 86.1 164.5 85 163.8 84.9 162.9Z"/>
<path class="sp" d="M129.5 134.7 129.2 135.8 126.3 136.2 126.3 134.3Z"/>
<path class="sp" d="M78 135.2 79.6 134 80.2 135.6 79.1 136.5Z"/>
<path class="sp" d="M135.9 121.4 137.2 121.5 138.1 121.9 138.1 122.7 137.2 123.4 136 122.9 135.6 122.2Z"/>
<path class="sp" d="M78.5 127.1 78 127.4 77.3 127.2 77.5 126.6 78.3 126.5Z"/>
<path class="sp" d="M94.9 136.5 94.4 136.7 93.6 136.6 93.4 136.1 93.8 135.5 94.5 135.8 95 136Z"/>
<path class="sp" d="M103 113.5 103.4 113.1 104.2 113.3 103.7 113.9 103.1 114.2Z"/>
<path class="sp" d="M134.7 131.9 134.2 133.2 131.8 132.6 132.4 131.4Z"/>
<path class="sp" d="M76.9 141.1 77.8 141.3 77.9 142 77 142.2 76.1 142.2 76.1 141.6 76.3 141.3Z"/>
<path class="sp" d="M121.9 120.3 122.7 119.9 123.7 120.1 123 120.8Z"/>
<path class="sp" d="M78.8 159.5 78.1 160 77.3 160.1 76.4 159.5 77.6 159Z"/>
<path class="sp" d="M100.6 148.8 100.5 148.3 101.1 147.8 101.8 148.3 102.2 148.7 101.5 149.3Z"/>
<path class="sp" d="M92.2 147.7 93.2 148.6 91.8 149.4 90.3 149 89.5 147.9 91.1 147.2Z"/>
<path class="sp" d="M100.3 124.8 100.4 125.4 99.5 125.6 98.7 125.1 99.2 124.5Z"/>
<path class="sp" d="M153 133.5 153.3 134.4 152.7 134.9 151.6 135.3 151.2 134.2 152 133.5Z"/>
<path class="sp" d="M143.2 132.2 141.7 132.2 140.9 131.9 140.3 131.4 141.1 130.9 142.5 130.9 142.8 131.5Z"/>
<path class="sp" d="M103.6 123.7 105.8 123.3 106.9 124.3 104.9 124.5Z"/>
<path class="sp" d="M88.2 117.3 87 118.5 84.6 117.7 84.9 116.3 87.7 116.1Z"/>
<path class="sp" d="M97.3 118 96.2 118.8 95.7 117.8 96.9 117.1Z"/>
<path class="sp" d="M135.5 140.3 134.8 141.2 133.5 141.8 132.7 140.7 132.8 139.5 134.3 139.8Z"/>
<path class="sp" d="M82.5 138.3 81.8 138.8 81.3 138.8 80.7 138.5 81 137.8 81.9 137.6Z"/>
<path class="sp" d="M135.1 145.4 133.6 145.4 133.7 144.6 134.2 143.9 135.5 144.1 136.4 144.9Z"/>
<path class="sp" d="M99.3 151.7 99.2 150.9 100.3 150.6 100.7 151.3 100.6 151.8 100 152.2Z"/>
<path class="sp" d="M50.6 154 49.7 153.8 49.7 152.9 51.1 152.5 51.2 153.6Z"/>
<path class="sp" d="M40.1 140.5 39.5 139.6 41.1 138.9 42.4 140 41.5 141.1Z"/>
<path class="sp" d="M56.9 159.2 56 159.1 55.9 158.7 56.4 158.2 57.3 158.3 58.1 158.6 57.8 159.1Z"/>
<path class="sp" d="M47.3 135.7 48.8 135.1 50.4 135.3 51.1 135.9 51.2 136.7 49.4 137.2 47.9 136.6Z"/>
<path class="sp" d="M50.3 157.4 49.3 156.3 50.1 155.6 51.3 156.1Z"/>
<path class="sp" d="M28.4 158.8 28.8 158.4 29.8 158.2 30.2 158.9 30.1 159.5 29.1 159.9 28.2 159.5Z"/>
<path class="sp" d="M37.8 133.4 39.1 133.9 39.2 134.5 38.8 135.1 37.5 135.1 36.4 134.7 36.4 133.9Z"/>
<path class="sp" d="M49.2 139 47.7 139.1 48 138.1 49.5 138.1Z"/>
<path class="sp" d="M56.7 151.8 56.3 152.3 55.8 151.8 55.5 151.4 55.7 150.9 56.3 150.9 56.8 151.2Z"/>
<path class="sp" d="M64.5 160.2 62.7 159.7 64.4 158.8 65.5 159.6Z"/>
<path class="sp" d="M39.4 142 37.3 141.8 38 140.3 40.2 140.5Z"/>
<path class="sp" d="M31.3 141.3 31.9 141.7 31.8 142.4 30.4 142.2 30.4 141.6Z"/>
<path class="sp" d="M40.8 152.1 40.9 151.7 41.4 151.3 41.9 151.7 41.8 152 41.4 152.2Z"/>
<path class="sp" d="M46 138.6 46.5 139 46.8 139.8 45.5 139.7 44.6 139.6 44.1 138.9 45 138.4Z"/>
<path class="sp" d="M52.6 154.5 51.5 154.2 50.5 153.7 50.9 152.7 52 152.6 52.6 153 53.6 153.7Z"/>
<path class="sp" d="M26.3 136.9 25.3 136.5 25.4 135.9 25.7 135.4 26.6 135.3 27.1 135.8 27.3 136.5Z"/>
<path class="sp" d="M38.7 142.7 39.4 143.2 39.4 143.8 38.8 144 38.1 143.8 38.2 143.3Z"/>
<path class="sp" d="M46.1 133.5 46.9 133.8 46.6 134.5 45.6 134.7 45.3 133.9Z"/>
<path class="sp" d="M31.5 74.5 32.1 74.3 32.7 74.3 32.6 74.7 32.5 75.2 31.9 75Z"/>
<path class="sp" d="M38 73.3 36.6 72.7 36.8 71.7 39.4 71.6 40.3 72.9Z"/>
<path class="sp" d="M27.5 63 26.7 62.9 26.7 62.4 27.4 62 28 62.4 28.3 62.9Z"/>
<path class="sp" d="M31.4 68.1 32.4 67.8 33 68.3 33.1 68.7 32.7 69.2 31.9 69 31.5 68.6Z"/>
<path class="sp" d="M37.2 69 37 68.5 37 68.2 37.5 68.1 38 68.3 37.8 68.7Z"/>
<path class="sp" d="M26.6 77.6 27.1 78.5 26.4 79.5 25.2 78.8 25.6 77.7Z"/>
<path class="sp" d="M80.5 60.4 81 59.8 82 59.4 82.9 60 82.8 60.7 81.9 61.1 80.2 61.5Z"/>
<path class="sp" d="M115.9 62.6 117.8 62.6 117 64.2 114.9 63.8Z"/>
<path class="sp" d="M119.4 73.2 119.7 72.6 120.4 72.2 121.3 72.7 121 73.5 120.5 74.1 119.8 73.7Z"/>
<path class="sp" d="M103.5 66.8 102.1 67 101.7 66.4 101.3 65.8 102.6 65.7 103.1 66.2Z"/>
<path class="sp" d="M100.9 61.2 102 61.4 101.8 62.3 101.3 62.9 100.5 62.5 99.5 62.2 100 61.4Z"/>
<path class="sp" d="M102.9 63.2 103 64.1 102.2 64.2 101.7 63.4Z"/>
<path class="sp" d="M91.1 59.8 90.6 60.6 89.6 61.2 88.7 60.5 88.3 59.5 89.3 58.8 90.3 59.3Z"/>
<path class="sp" d="M113.8 68.3 112.4 67.7 113.1 66.6 114.3 66.6 115.4 67 114.9 67.8Z"/>
<path class="sp" d="M103.7 63.4 104.5 64.1 104.1 65.1 101.9 65 100.7 64.4 100.6 63.5 102 62.7Z"/>
<path class="sp" d="M115.4 61.5 114.3 62.2 112.8 61.7 113.5 60.8 114.8 60.6Z"/>
<path class="sp" d="M497.2 78.2 496.5 79 495.8 79.5 495.1 79 495.2 78.3 495.5 77.7 496.4 77.5Z"/>
<path class="sp" d="M500.3 67.6 499.7 68.5 498.4 68.6 497.8 67.6 498.3 66.7 499.1 66.7 500 66.7Z"/>
<path class="sp" d="M506.6 70 505.6 70.2 505.1 69.6 506.2 69.1Z"/>
<path class="sp" d="M484.3 105.3 483 105.3 482.8 104.6 483.5 104.1 484.6 104.3 486.3 104.4 486.1 105.4Z"/>
<path class="sp" d="M494 97 494.5 96.2 495.3 95.8 496.2 96.2 496 96.9 495.2 97.4Z"/>
<path class="sp" d="M501 65.3 501.6 65.5 501.2 65.9 500.4 66 500 65.5 500.4 65.1Z"/>
<path class="sp" d="M510.8 70.5 510.1 69.5 511.7 68.8 513.2 69.5 512.7 70.6Z"/>
<path class="sp" d="M501.9 70 502.8 69.4 503.9 69.6 503.5 70.5Z"/>
<path class="sp" d="M485.1 106.5 485.7 107.2 484.1 107.5 482.4 107.3 482.4 106.4 484 106.1Z"/>
<path class="sp" d="M513.5 77.1 513.7 78.2 514.2 79 513 79.4 511.6 79.2 511.1 78.2 512 77.4Z"/>
<path class="sp" d="M525.7 92.9 524.9 94 523.3 93.5 524.1 92.4Z"/>
<path class="sp" d="M556.7 76.4 556.2 76.9 555.2 76.8 555.9 76.3Z"/>
<path class="sp" d="M542.6 74.9 544.3 75 544.7 75.8 544.1 76.6 542.5 76.4 541.1 76.1 541.7 75.4Z"/>
<path class="sp" d="M542 92.5 542.8 92.8 543.1 93.1 542.6 93.4 542.1 93.4 541.4 93Z"/>
<path class="sp" d="M542.3 76.5 542.3 75.9 543.5 75.6 543.8 76.3Z"/>
<path class="sp" d="M550.4 70.4 549 70.7 549 69.9 549.9 69.6 550.9 69.9Z"/>
<path class="sp" d="M560.7 93.4 560.4 93.1 560.5 92.9 560.8 92.6 561.1 92.9 561.2 93.3Z"/>
<path class="sp" d="M543.9 93.3 543.7 94.5 541.9 94 541.6 92.6Z"/>
<path class="sp" d="M564.2 85.2 564.3 86.2 563.3 85.8 563.4 85Z"/>
<path class="sp" d="M551.7 80.3 552.5 80 553.4 80.3 552.9 80.9 552.3 81.4 551.3 81Z"/>
<path class="sp" d="M548.2 68.7 547.4 68.5 547.4 67.9 547.5 67.4 548.4 67.2 548.9 67.7 548.7 68.2Z"/>
<path class="sp" d="M559.9 80.9 560.4 79.9 561.8 79.2 562.9 80 563.2 80.6 562 81Z"/>
<path class="sp" d="M563.7 89 563.2 88.7 563.2 88.2 563.9 88 564.4 88.4 564.3 88.9Z"/>
<path class="sp" d="M551 76.8 550.4 76.4 550.6 76.1 551.2 76 552 76.1 551.5 76.4Z"/>
<path class="sp" d="M538.5 83.7 539.5 84.2 539.3 84.7 538.3 84.8 537.4 84.3Z"/>
<path class="sp" d="M553.5 92 554 91.4 554.4 91 555.1 91.2 555.7 91.7 555.1 92.3 554.2 92.5Z"/>
<path class="sp" d="M556.1 108 555.8 107.6 556.3 107.4 556.5 107.8Z"/>
<path class="sp" d="M587.5 115.8 586.5 115.4 586.1 114.9 586.5 114.2 587.7 114.3 588.5 114.7 588 115.2Z"/>
<path class="sp" d="M567.5 106.9 567.3 106.3 567.7 105.6 568.7 105.8 569.3 106.5 569 107.5 568 107.2Z"/>
<path class="sp" d="M590.9 113.1 590.7 112.6 591.3 112.2 592.1 112 592.3 112.6 592.4 113.2 591.6 113.7Z"/>
<path class="sp" d="M570.1 97.3 569.2 97.4 568.9 96.6 569.7 96.4 570.5 96.6Z"/>
<path class="sp" d="M577.6 95.1 577.4 96 577.1 97 575.6 96.6 574.7 96.2 574.8 95.5 576 95Z"/>
<path class="sp" d="M589.2 101.7 588 101.4 589 100.9 590 100.4 590.9 101.2 590.3 101.9Z"/>
<path class="sp" d="M403.1 119.2 403.8 120.1 402.4 120.3 401.9 119.6Z"/>
<path class="sp" d="M401 117 402.1 117.1 401.9 117.6 400.8 117.9 400.4 117.4Z"/>
<path class="sp" d="M404.6 117.2 406 117.1 405.6 118.4 404.1 118.4Z"/>
<path class="sp" d="M162.4 134.3 162.6 133.3 164.6 133.2 164.5 134.3Z"/>
<path class="sp" d="M161.9 133.6 161.2 133.4 161.8 133 162.7 132.7 162.9 133.2 162.7 133.6Z"/>
<path class="sp" d="M160 130.3 158.7 130.2 158.1 129.2 159.3 128.6 159.9 129.4Z"/>
<path class="sp" d="M155.4 128 156.4 128.2 157.5 128.9 156.2 129.5 154.4 129.6 154.2 128.8 154 128.1Z"/>
<path class="sp" d="M159.4 133 159.9 132.4 161.2 132.1 162.2 133 160.8 133.5 159.7 133.8Z"/>
<path class="sp" d="M149.9 129.6 148.4 129.7 148 128.8 147.9 127.9 149.3 127.9 149.7 128.6Z"/>
<path class="sp" d="M127.4 155.9 128.4 156.1 128.2 156.9 127.1 156.9 126.3 156.3Z"/>
<path class="sp" d="M139.9 153.5 139.4 152.3 142 152.3 141.7 153.2Z"/>
<path class="sp" d="M126.9 155.9 128.4 156.4 127.2 157.7 126.1 156.6Z"/>
<path class="sp" d="M152.2 152.8 152.5 153.1 152.3 153.5 151.7 153.4 151.2 152.9Z"/>
<path class="sp" d="M126.6 176.5 126.6 177.2 126 177.7 125.5 177.1 125.8 176.5Z"/>
<path class="sp" d="M123.1 177.5 123.7 177.7 123.6 178.2 123.1 178.8 122.5 178.2 122.2 177.8 122.6 177.5Z"/>
<path class="sp" d="M121.6 176.8 121.9 176.2 122.3 175.4 123.6 175.9 124.8 176.4 123.5 177 122.3 177.5Z"/>
<path class="sp" d="M128.9 176.6 126.9 176.1 126.4 175.4 127.5 174.3 129.1 175.2Z"/>
<path class="sp" d="M109.5 178.9 108.9 180 107.4 180 107 179 108.1 178.3Z"/>
<path class="sp" d="M105.3 185.4 105.2 184.7 106.3 184.3 107.8 184.9 106.4 185.5Z"/>
<path class="sp" d="M112.4 175 113.6 175.2 113.7 175.9 113.2 176.7 111.6 176.4 111.7 175.5Z"/>
<path class="sp" d="M107.9 184.4 106.3 184 106.8 182.9 108.8 182.5 108.8 183.7Z"/></g>
</defs>
<rect width="607" height="615" fill="#fff"/>
<g clip-path="url(#clipa)">
<polygon points="150,183.5 153.2,177.8 158.2,173.7 163.1,165.4 168.1,163 174.7,162.1 181.2,158.8 183,156.4 187.8,150.6 197.7,148.5 210.9,147.3 224.1,146.5 240,146.5 253.8,146.9 263,141.1 276.9,137.7 300,137 316.1,136.5 336.9,135.4 350.7,134.7 357.6,137.7 365.7,146.9 371.5,155 364.5,159.6 353,163.1 336.9,163.1 316.1,164.2 306.9,166.5 300,173.4 286.1,174.6 270,176.9 253.8,178.5 240,179 230.7,178.5 219.1,180 202.7,182.7 186.2,185.2 169.7,186.8 154.9,186" fill="#fbbb37"/>
<polygon points="182.9,163 187.8,161.3 194.4,158 199.4,156.4 207.6,154.7 214.2,153.9 224.1,153.1 240,152.5 253.8,150.4 274.6,149.9 289.6,150.4 293,155 288.4,159.6 283.8,162 263,166 253.8,170.5 240,172 227.4,173.2 214.2,174.5 202.7,175.3 192.8,174.5 184.5,171.2 181.2,166.2" fill="#ff6404"/>
<polygon points="538.5,29.7 543.7,23.8 554.3,23.5 558.2,18.5 564.8,11.2 587.2,11.2 591.2,15.9 597.8,21.1 600,21 600,48.8 588.5,48.8 576.7,60.7 566.1,48.8 554.3,48.8 543.7,37" fill="#fbbb37"/>
<polygon points="484,256.3 491.4,250.5 504.6,244.8 509.5,239 547.4,239 552.4,245.6 559.8,252.2 559.8,269.5 555.7,274.4 498,274.4 489.8,265.4" fill="#fbbb37"/>
<polygon points="493.9,257.1 501.3,253 509.5,251.4 539.2,250.5 546.6,253 547.4,258 542.5,262.1 524.4,262.9 501.3,262.9" fill="#ff6404"/>
<polygon points="416.2,283 422.8,276.2 432.7,275.4 441,267.2 445.9,263.9 465.7,263.9 470.6,268.8 465.7,274.6 454.1,275.4 449.2,283" fill="#fbbb37"/>
<line x1="66.7" y1="4.5" x2="66.7" y2="282.4" class="gv"/>
<line x1="111" y1="4.5" x2="111" y2="282.4" class="gv"/>
<line x1="155.3" y1="4.5" x2="155.3" y2="282.4" class="gv"/>
<line x1="199.7" y1="4.5" x2="199.7" y2="282.4" class="gv"/>
<line x1="244" y1="4.5" x2="244" y2="282.4" class="gv"/>
<line x1="288.3" y1="4.5" x2="288.3" y2="282.4" class="gv"/>
<line x1="332.6" y1="4.5" x2="332.6" y2="282.4" class="gv"/>
<line x1="376.9" y1="4.5" x2="376.9" y2="282.4" class="gv"/>
<line x1="421.2" y1="4.5" x2="421.2" y2="282.4" class="gv"/>
<line x1="465.6" y1="4.5" x2="465.6" y2="282.4" class="gv"/>
<line x1="509.9" y1="4.5" x2="509.9" y2="282.4" class="gv"/>
<line x1="554.2" y1="4.5" x2="554.2" y2="282.4" class="gv"/>
<line x1="22.4" y1="257.1" x2="598.5" y2="257.1" class="gh"/>
<line x1="22.4" y1="231.9" x2="598.5" y2="231.9" class="gh"/>
<line x1="22.4" y1="206.6" x2="598.5" y2="206.6" class="gh"/>
<line x1="22.4" y1="181.3" x2="598.5" y2="181.3" class="gh"/>
<line x1="22.4" y1="156.1" x2="598.5" y2="156.1" class="gh"/>
<line x1="22.4" y1="130.8" x2="598.5" y2="130.8" class="gh"/>
<line x1="22.4" y1="105.6" x2="598.5" y2="105.6" class="gh"/>
<line x1="22.4" y1="80.3" x2="598.5" y2="80.3" class="gh"/>
<line x1="22.4" y1="55" x2="598.5" y2="55" class="gh"/>
<line x1="22.4" y1="29.8" x2="598.5" y2="29.8" class="gh"/>
<g class="ct">
<polyline points="56.6,15.5 63.2,10.6 71.4,6.5 78,4"/>
<polyline points="56.6,19.3 66.5,23.8 78.8,28.2 96.1,31.7 113.4,36.1 121.9,40 132.4,44 141.6,50.5 148.2,58.5 152.2,65 156.1,71.6 160.1,79.5 165.4,85.5 170,88.8"/>
<polyline points="181.5,89.5 186,86 190,81.4 195,76.5 206.4,69.1 219.5,65.3 223.7,66.6 229.4,72.4 236,78.9 240.1,81.4 254.1,81.4 263,80.5 269.5,79.8"/>
<polyline points="282.7,80.5 291,83 299.2,87.1 307.4,90.4 317.3,92.1 330,91.2"/>
<polyline points="147.8,22.1 141.2,23.8 135.4,26.2 133.8,28.7 142.8,33.7 149.5,40 156.3,46 163,52 169.5,57.5 176,60.5 183,60.3 191.2,58.4 199.4,55.9 206,51.8 208.5,44.4 206,38.6 199.4,32.8 187.9,27.1 174.7,22.9 161.5,21.3"/>
<polyline points="22.5,78 38.5,83.8 55,88.7 71.4,92.8 96,95.5 122,99 140.7,105.4 147,107.6"/>
<polyline points="160.9,108.9 167.5,107.3 170.8,105.6 165.8,102.4 160.1,100.6 153.5,95.4 148.2,88.8 144.3,80.9 141.6,74.3 136.4,66.4 131.1,58.5 123.2,53.2 110,48 95,43.5 80,40 66,37.5 56.6,36.5"/>
<polyline points="22.5,96.2 38.5,99.8 55,104 67.5,106.1"/>
<polyline points="82,105.6 96,105.1 111.5,105.6 128,107.3 139.5,109.8 149.4,113.1 160.9,118 170.8,123 179.5,127.7"/>
<polyline points="193.7,129.7 209.5,128.7 229.3,125.7 249.1,121.7 268.9,117.8 290,113.8 312.4,109.5 330,108"/>
<polyline points="55,129.5 58.2,122.9 64.8,118.8 76.4,116.3 91.2,114.7 103.5,113.3"/>
<polyline points="116.6,113.4 124.6,114.7 132.9,116.4 139.5,120.5 150,126 160,129.5 170,132.6 189.8,133.6 209.5,132.6 229.3,129.7 249.1,126.7 268.9,122.7 290,118.8 310,116 330,114.3"/>
<polyline points="177.6,116.5 180,115.2 190,114.4 199.8,113.5 203,109.4 205.5,101 206.5,92 207.3,88.5"/>
<polyline points="215.4,84.7 222.8,88 229.4,93 236,98.7 242.6,102.8 247.5,105.3 241,111 234.4,116.8 226,117.6 213,118.5 196.5,119 180,117.6 177.6,116.5"/>
<polyline points="93.7,130.5 100,128.8 110,128.4 117.1,129.6 110,131.6 100,132 93.7,130.5"/>
<polyline points="259.7,93.7 264.6,90.4 272.8,87.9 281.1,87.9 288.5,92.9 286.8,96.2 282.7,98.7"/>
<polyline points="269.5,99.5 263,97 259.7,93.7"/>
<polyline points="248.1,67.4 256.4,69.8 271.2,70.7 287.7,70.7 299.2,71.5 303,73.5"/>
<polyline points="315.7,73.5 315.7,67.4 305,64.5 290,62.5 277.8,62.4 264.6,62.4 254.7,64.1 248.1,67.4"/>
<polyline points="258,51.4 239.9,51 233.3,48.5 229,42 228,30 232,18 246.5,11.4 263,11.4 279.4,13.1 295.9,15.5 309.1,18.8 320.6,22.1 330,24.6"/>
<polyline points="272,51.8 287.7,52.6 299.2,53.4 312,55 330,58"/>
<polyline points="291,44.4 263,43.5 253,42.7 251.4,41.9 251.4,35.3 256.4,28.7 266.2,25.4 279.4,24.6 295.9,25.1 309.1,27.9 317.3,32 322.3,37 320.6,41.9 309.1,43.5"/>
<polyline points="287.7,4 299.2,6.5 312.4,10.6 322.3,13.9 330,16.4"/>
<polyline points="22.5,160.5 40,157.3 63,156.1 86.1,155.7 106.9,155.3 102.3,153.8 86,152 70,150.4"/>
<polyline points="110,157 132.3,153.8 143.8,151.5 155.3,147.5 165,141 173.3,138.2 181.2,136.6 193,137.5 200,137.4 225,135.8 250,131.2 275,127.3 300,122.7 320,120.6 336.5,119.8 352.9,118.1 369.4,116.5 385.9,114.8 397.4,114"/>
<polyline points="22.5,179 40,176.9 63,174.6 86.1,172.3 109.2,167 123.2,162.5 136.4,158 149.5,154 162.7,150 172,147.4 182.5,144.8 190,142.8 200,142.3 225,140.2 250,134.8 275,130.5 300,126.4 320,126 338.1,127"/>
<polyline points="348,127.7 361.2,128.3 377.7,128.8 389.2,129.3 391,140 390.2,150 389.2,163.8 387.2,166.8 379.3,167.8 359.5,168.2 339.8,168.8 320,169.8 312.4,172.4 295.9,175.7 279.4,178.1 263,179.8 246.5,181.4 230,183.9 218.9,187 199.1,191.5 180,194.5"/>
<polyline points="110,172.4 123.2,168.5 136.4,164.5 149.5,160.6 162.7,156.6 175.9,152.7 190,148.7 200,148 225,145 250,139 275,135.8 300,132.3 318,131.3 324.9,132.1"/>
<polyline points="338.1,134.6 349.7,135.4 357.9,137.9 364.5,144.5 365.3,151.1 362.8,156.8 356.2,160.1 344.7,161.8 328.2,162.6 320,163 312.4,164.9 295.9,168.2 279.4,171.5 263,174 246.5,176.5 230,180.5 215,186 200,190.5 180,193 166.8,194.2 149.6,195.5"/>
<polyline points="136,195.3 127.6,193 125.3,187.3"/>
<polyline points="22.5,198 40,194.2 63,189.6 86.1,185 109.2,179.5 123.2,174.4 136.4,170.5 149.5,167.2 162.7,164 175,159.5 184,155 193,151.5 209.4,149.7 225.9,147.8 250,143.2 275,140.5 300,138.3 312.6,138.7"/>
<polyline points="327.4,140 339.8,142 343.9,144.5 344.7,149.4 341.4,152.7 336.5,154.4 320,156 309.2,157.3 286.1,160.7 263,166.5 246.5,172.4 230,176.5 222,180 209,182.6 189.2,184 172.4,184.6"/>
<polyline points="157.6,183.6 154.6,181.6 155.6,179.7 163.5,175.7 169.4,169.8 179.3,163.8 187.2,159.9"/>
<polyline points="224.7,153.9 213.2,154.7 206.6,156.4 193,158.7 184.7,162.8 186,168 188,171.1 193,173.5"/>
<polyline points="204.5,174.4 217.7,172.9 230,170.8 241.2,168.7 246.1,168.7 251.1,165.4 256,161.3 262.6,158 270.8,156.4 272.5,155.5 257.7,154.7 239.5,153.9"/>
<polyline points="209.5,168.6 213,167.9 218.5,168.4 213,169.2 209.5,168.6"/>
<polyline points="230,186.4 246.5,184.7 263,183.9 279.4,183.1 295.9,181.4 312.4,178.9 320,178.7 339.8,177.7 359.5,177.7 375.4,179.7 385.2,183.6 390,185.5"/>
<polyline points="406.5,186.6 414.9,183.6 418.9,179.7 420.8,173.7 424.8,165.8 430.7,157.9 436.6,150 440,146"/>
<polyline points="230,190.5 246.5,189.7 263,189.7 279.4,191.3 287.7,193.5"/>
<polyline points="307.5,195.4 319,192.1 330,189 339.8,185.6 359.5,184.6 375.4,186.6 383.3,191.5 389.2,197.5 397.1,205.4 400.5,207.5"/>
<polyline points="415,205.4 424.8,199.4 434.7,191.5 440,187.6"/>
<polyline points="249.9,199.5 263,204 271.2,206.6 287.7,216.5 297.5,226.4 303.3,231.3 300.8,237.9 295.9,243.7 284.4,248.6 267.9,252.4 251.4,251.1 241.5,249.4 236.6,256.8 243.2,261.8 254.7,267.5 266.2,271.7 279.4,274.1"/>
<polyline points="260.5,233.8 264.6,229.7 271.2,228.8 277.8,231.3 276.1,237.9 269.5,244.5 264.6,243.7 260.5,238.8 260.5,233.8"/>
<polyline points="22.5,219.5 35,214.8 48.4,210.7 64.8,207.5 80,205 95,202.5 110,201.2 125,201.5 139.5,202.2"/>
<polyline points="148.8,202.6 159.5,202.4 179.3,199.4 199.1,196.5 218.9,192.5 230,190.5"/>
<polyline points="22,229.6 38.5,223.8 55,219.7 71.4,215.6 87.9,213.1 110,210.4 124.8,209.8 139.7,209.1 154.5,207.6 169.3,205.4 184.1,201.5 200,198.5 226,194 239.3,192.6 260,191.5"/>
<polyline points="22,240.3 31.9,236.2 46.7,230.4 63.2,226.3 79.7,223 96.1,219.7 110,217.2 124.8,215 139.7,212.8 154.5,211.3 169.3,209.1 184.1,206.1 200,203.2 213,200.5 226,197.5 239.3,195.5 260,194.5"/>
<polyline points="60,283 64.8,279 71.4,275.7 84.6,272.4 92.8,270 83,265.8 71.4,259.2 59.9,251 50.8,243.6 59.9,237.8 68.1,233.7 76.4,231.2 84.6,230.4 96.1,230.9 110,227.6 124.8,223.2 139.7,219.5 154.5,216.5 169.3,213.5 184.1,210.6 200,207 213,203.5 235.4,199.5"/>
<polyline points="147.8,231.3 154.5,229.8 161.9,226.9 169.3,221.7 173.8,218.7 184.1,215.8 200,212.5 213,208.8"/>
<polyline points="224.5,213.1 223.5,219 222.2,226.9 221.5,233.5 222.4,240 223,247.7 225.3,256.9 232.2,262.7 241.5,268.4 239.2,271.9 225.3,270.7 206.9,266.1 195.3,261.5 179.2,246.5 169.3,242.5 158.9,238 147.8,231.3"/>
<polyline points="99.4,283 109.3,274 121.5,259.2 133.1,255.7 136.5,255.5"/>
<polyline points="150.3,256 153.8,256.9 179.2,259.2 202.3,263.8 218.4,268.4 229.9,273 241.5,276.5 250,280 255,283"/>
<polyline points="349.7,109.1 369.4,106.6 385.9,104.1 402.4,102.5 420,100.8 432,99 440,97.5"/>
<polyline points="336.5,114 352.9,112.4 369.4,111.5 385.9,110.7 402.4,109.9 418.8,106.6 430,103 436.2,101.2"/>
<polyline points="330,24.6 336.5,30.4 344.7,34.5 361.2,41.9 377.7,48.5 389.2,53.4 402.4,60 420,69.9 428,76.5 432.1,83.1 431.3,89.7 426.4,94.6 419.8,97.9 409.9,99.5 400,100.4"/>
<polyline points="330,16.4 336.5,19.6 344.7,22.1 361.2,30.4 376,39.4 389.2,44.4 402.4,49.3 410,51.8 419.9,56.7 428.1,63.3 434.7,69.9 442.8,76 451.1,81 456,84.7"/>
<polyline points="341.4,8.1 352.9,13.9 364.5,22.1 376,29.5 389.2,35.3 402.4,40.2 410,44.4 419.9,47.7 429.8,53.4 439.7,61.7 446.2,69.9 449.5,74 457.7,71.5 465.9,76.5 468,78"/>
<polyline points="482.4,79 489,74.8"/>
<polyline points="330,58 338.1,65 343.1,74"/>
<polyline points="371.5,98 389.3,95.1 401.2,94.3 407.1,92.1 410.1,86.2 413.1,80.2 404.2,74.3 393.8,66.9 381.9,62.4 371.5,61.7 364.1,63.9 361.9,71.3 361.9,80.2 356.7,87.6 352.3,92.8 357.5,97.2"/>
<polyline points="414.9,4 426.5,8.9 436.4,15.5 443,22.1 449.5,30.4 459.4,36.9 469.3,45.2 479.2,51.8 487.4,58.4 492.4,65 497.3,74 502,82 505.4,90 501.9,106.9"/>
<polyline points="446.2,4 459.4,10.6 465.2,15.5 465.2,23.8 466,30.4 472.6,37 480.8,43.5 487.4,50.1 494,56.7 499.8,61.7 502.3,69.9 505.4,74 510.6,61.9 505.4,55"/>
<polyline points="488.3,42.7 492.4,48.5 495.7,55.1"/>
<polyline points="453.7,55.8 459,54.2 466.8,55.5 460,57.5 453.7,55.8"/>
<polyline points="400,104.5 416.5,103.7 437.9,103.7 444,102"/>
<polyline points="472.5,97.9 482.4,91.3 492.3,84.7 500,79.8 508.2,72 512.3,65 509.9,58 509.9,50 513.2,20.5 509.9,13.9"/>
<polyline points="416.5,113.5 426.4,114.4 436.2,117.7 442.8,122.6 446.4,129.9 443.1,139.8 438.1,148 433.2,157.9 428.2,169.4 423.3,179.3 420,185.9"/>
<polyline points="464.5,134.8 459.5,143.1 455.4,152.9 453.8,161.2 454.6,169.4 453,177.7 448,185.9 444.7,190 439.7,206.4 451.2,210.5 464.4,212.9 472.6,216.2 475.9,219.5"/>
<polyline points="520,135.7 510.6,137.3 494.1,139.8 477.7,144.7 471.1,151.3 468.6,159.5 469.4,169.4 467.8,179.3 462.8,185.9 457.8,191.5 447.9,199.8 439.7,206.4"/>
<polyline points="500,140.5 516.5,136.4 523,136"/>
<polyline points="538,137.2 544.5,141.3 545.3,151.2 542.8,162.7 539.5,172.6 537.1,180 534.6,183.2 535.4,191.5 541.2,198.1 549.4,201.4 557.7,202.2 564.3,208 561,212.9 554.4,217.8 546.1,221.1 541.2,219.5 538,212 539.5,202.2"/>
<polyline points="482.6,190 484.3,182.6 485.1,176 485.9,166.1 489.2,159.5 494.1,156.2 500,155.8 512.5,155"/>
<polyline points="516.5,159.4 509.9,161.1 506.6,167.7 501.6,175.9 498,185 494,195 490,205"/>
<polyline points="557.7,110 565.9,118.2 569.2,129.8 565.9,139.7 562.6,147.9 561,157.8 562.6,164.4 569.2,167.7 577.4,166 587.3,161.1 595.6,156.1 600,154.5"/>
<polyline points="522.7,60.2 516.6,65.4 515.8,74 517.5,82.7 519.2,87"/>
<polyline points="536.5,98.3 535.7,89.6 533.9,81 531.3,72.3 527.9,63.7 522.7,60.2"/>
<polyline points="529.6,55 536.5,61.9 540,72.3 543.4,81 546.9,91.3 549,100"/>
<polyline points="536.5,55 545.2,61.9 550.4,72.3 553.8,82.7 557.3,93.1 560.7,103.4 564.2,115.6 565.9,125"/>
<polyline points="500,27.1 508.2,30.4 516.5,37 524.7,45.2 532.9,53.4 541.2,61.7 547.8,69.9"/>
<polyline points="546.9,55 560.7,61.9 567.7,67.1 581.5,70.6 600,72.3"/>
<polyline points="570,85 585,90 600,94"/>
<polyline points="532.9,28.7 539.5,22.1 549.4,17.2 562.6,14.7 571,14.2"/>
<polyline points="582,14.4 585.7,14.7 595.6,17.2 600,19.7"/>
<polyline points="532.9,28.7 541.2,37 549.4,45.2 559.3,53.4 570.8,58.4 582.4,60.8 592.3,62.5 600,63.3"/>
<polyline points="415,199.8 426.5,193.2 443,186.6 459.4,180"/>
<polyline points="505,222 516.5,222.8 532.9,224.4 549.4,226.1 565.9,229.4 582.4,236 592.3,245 598,255"/>
<polyline points="410,228.5 418,227.8 426.5,229.5 418,232.7 410,232.5"/>
<polyline points="434.7,243.5 440,242.6 446.2,243.8 440,245.1 434.7,243.5"/>
<polyline points="549.4,229.4 565.9,231.8 579.1,237.6 587.3,245 592,255"/>
<polyline points="484,256.3 492,251 505,246 509,243 520,241.5 524,240.7"/>
<polyline points="538,240.7 548,242 556,246 560,251 562,258 560,264"/>
<polyline points="500,255 505,252 512,251 518,245.5 525,244 530,246 533,250 540,251.5 547,254 549,258 545,262 537,263.5 524.4,263.5"/>
<polyline points="518,263.5 505,263 497,261 496,258 500,255"/>
<polyline points="484,256.3 489,262 498,268 520,271.5 545,271 560,268 570,262 580,255 590,250"/>
<polyline points="482,276 500,277.5 530,278.5 560,276 580,270 600,262"/>
<polyline points="256,283 262,280.5"/>
<polyline points="294.6,273.7 313,271.6 330,268.7 338,264 346,260 348.3,256 344.4,250.4 338.8,244.8 342.8,240 350.7,231.3 358.7,223.3 362.7,218.5 357.9,213.7 352.3,208.9 349.1,202.5 348.8,196.2 350.7,193.8 361.9,193.8 365.1,197 365.9,204.1 369.9,210.5 376.3,216.9 381,223.3 385,232.8 385.8,240.8 387.4,244.8 390.5,247"/>
<polyline points="357.1,273.5 352.3,271.1 353.9,267.9 361.9,263.1 374.7,261.6 381,266.3 377.8,269.5 371.5,271.9"/>
<polyline points="469.9,225.1 480.9,223.3 491,222.4"/>
<polyline points="404,250.1 418.4,247.2 436.8,240.8 455.1,234.3 469.9,230.7 482.7,227.9 500,226.5 516.5,228 526.4,229.4 535,229.4"/>
<polyline points="366,283 385,276 400,268 418.4,260.1 436.8,253.6 455.1,247.2 473.5,242.6 488.2,238.9 500,235.5 516.5,232 532.9,232.5 549.4,233.2 565.9,236.5 574.1,241 579.1,245 584,252"/>
<polyline points="378,283 400,272 418.4,264.7 436.8,258.2 455.1,251.8 473.5,247.2 490,243 505,240.5 520,238.5 535,237.5 549.4,238 565.9,241 575,248"/>
<polyline points="395,283 409.2,276 436.8,262.5 455.1,256 477.2,250.5 484,256.3"/>
<polyline points="420,283 427.6,278 455.1,261 482.7,252.5"/>
</g>
<g class="cs" transform="translate(0 0)">
<use href="#coast"/>
</g>
<rect x="169.2" y="88.3" width="13.3" height="8.6" fill="#fff"/>
<text x="175.8" y="96.1" class="cl" text-anchor="middle">0.4</text>
<rect x="269.5" y="75.4" width="13.3" height="8.6" fill="#fff"/>
<text x="276.1" y="83.2" class="cl" text-anchor="middle">0.4</text>
<rect x="148.2" y="17.1" width="13.3" height="8.6" fill="#fff"/>
<text x="154.8" y="24.9" class="cl" text-anchor="middle">0.6</text>
<rect x="146.8" y="104.3" width="13.3" height="8.6" fill="#fff"/>
<text x="153.5" y="112.1" class="cl" text-anchor="middle">0.2</text>
<rect x="68" y="101.7" width="13.3" height="8.6" fill="#fff"/>
<text x="74.7" y="109.5" class="cl" text-anchor="middle">0.4</text>
<rect x="180" y="124.3" width="13.3" height="8.6" fill="#fff"/>
<text x="186.7" y="132.1" class="cl" text-anchor="middle">0.4</text>
<rect x="103.4" y="108.6" width="13.3" height="8.6" fill="#fff"/>
<text x="110.1" y="116.4" class="cl" text-anchor="middle">0.6</text>
<rect x="202.8" y="80.3" width="13.3" height="8.6" fill="#fff"/>
<text x="209.5" y="88.1" class="cl" text-anchor="middle">0.2</text>
<rect x="269.5" y="98.4" width="13.3" height="8.6" fill="#fff"/>
<text x="276.1" y="106.2" class="cl" text-anchor="middle">0.2</text>
<rect x="302.9" y="72.6" width="13.3" height="8.6" fill="#fff"/>
<text x="309.5" y="80.4" class="cl" text-anchor="middle">0.6</text>
<rect x="258" y="46.8" width="13.3" height="8.6" fill="#fff"/>
<text x="264.6" y="54.6" class="cl" text-anchor="middle">0.4</text>
<rect x="291.8" y="40.5" width="13.3" height="8.6" fill="#fff"/>
<text x="298.4" y="48.3" class="cl" text-anchor="middle">0.2</text>
<rect x="402.4" y="109.6" width="13.3" height="8.6" fill="#fff"/>
<text x="409" y="117.4" class="cl" text-anchor="middle">0.8</text>
<rect x="340.9" y="122.8" width="5.9" height="8.6" fill="#fff"/>
<text x="343.9" y="130.6" class="cl" text-anchor="middle">1</text>
<rect x="324.9" y="129.2" width="13.3" height="8.6" fill="#fff"/>
<text x="331.5" y="137" class="cl" text-anchor="middle">1.2</text>
<rect x="136.2" y="191.1" width="13.3" height="8.6" fill="#fff"/>
<text x="142.8" y="198.9" class="cl" text-anchor="middle">1.2</text>
<rect x="313.4" y="135.1" width="13.3" height="8.6" fill="#fff"/>
<text x="320" y="142.9" class="cl" text-anchor="middle">1.4</text>
<rect x="158.8" y="180.2" width="13.3" height="8.6" fill="#fff"/>
<text x="165.5" y="188" class="cl" text-anchor="middle">1.4</text>
<rect x="225.4" y="149.2" width="13.3" height="8.6" fill="#fff"/>
<text x="232.1" y="157" class="cl" text-anchor="middle">1.6</text>
<rect x="191.7" y="170" width="13.3" height="8.6" fill="#fff"/>
<text x="198.3" y="177.8" class="cl" text-anchor="middle">1.6</text>
<rect x="391.5" y="182.2" width="13.3" height="8.6" fill="#fff"/>
<text x="398.1" y="190" class="cl" text-anchor="middle">0.8</text>
<rect x="290.9" y="191" width="13.3" height="8.6" fill="#fff"/>
<text x="297.5" y="198.8" class="cl" text-anchor="middle">0.6</text>
<rect x="401.4" y="204.9" width="13.3" height="8.6" fill="#fff"/>
<text x="408" y="212.7" class="cl" text-anchor="middle">0.6</text>
<rect x="141.2" y="197.9" width="5.9" height="8.6" fill="#fff"/>
<text x="144.2" y="205.7" class="cl" text-anchor="middle">1</text>
<rect x="235.9" y="194.6" width="13.3" height="8.6" fill="#fff"/>
<text x="242.6" y="202.4" class="cl" text-anchor="middle">0.4</text>
<rect x="213.5" y="204.7" width="13.3" height="8.6" fill="#fff"/>
<text x="220.2" y="212.5" class="cl" text-anchor="middle">0.2</text>
<rect x="136.8" y="251.1" width="13.3" height="8.6" fill="#fff"/>
<text x="143.4" y="258.9" class="cl" text-anchor="middle">0.4</text>
<rect x="335.6" y="105.8" width="13.3" height="8.6" fill="#fff"/>
<text x="342.2" y="113.6" class="cl" text-anchor="middle">0.4</text>
<rect x="468.4" y="76.2" width="13.3" height="8.6" fill="#fff"/>
<text x="475" y="84" class="cl" text-anchor="middle">0.8</text>
<rect x="357.8" y="93.9" width="13.3" height="8.6" fill="#fff"/>
<text x="364.4" y="101.7" class="cl" text-anchor="middle">0.2</text>
<rect x="490.7" y="32.6" width="13.3" height="8.6" fill="#fff"/>
<text x="497.3" y="40.4" class="cl" text-anchor="middle">0.4</text>
<rect x="444.5" y="96.8" width="13.3" height="8.6" fill="#fff"/>
<text x="451.1" y="104.6" class="cl" text-anchor="middle">0.6</text>
<rect x="458.5" y="96" width="13.3" height="8.6" fill="#fff"/>
<text x="465.1" y="103.8" class="cl" text-anchor="middle">0.6</text>
<rect x="523.9" y="131.1" width="13.3" height="8.6" fill="#fff"/>
<text x="530.5" y="138.9" class="cl" text-anchor="middle">0.4</text>
<rect x="513.1" y="150.9" width="13.3" height="8.6" fill="#fff"/>
<text x="519.8" y="158.7" class="cl" text-anchor="middle">0.2</text>
<rect x="513.5" y="86.1" width="13.3" height="8.6" fill="#fff"/>
<text x="520.1" y="93.9" class="cl" text-anchor="middle">0.2</text>
<rect x="573.6" y="9.8" width="5.9" height="8.6" fill="#fff"/>
<text x="576.6" y="17.6" class="cl" text-anchor="middle">1</text>
<rect x="491.5" y="217.6" width="13.3" height="8.6" fill="#fff"/>
<text x="498.1" y="225.4" class="cl" text-anchor="middle">0.2</text>
<rect x="535.1" y="225.2" width="13.3" height="8.6" fill="#fff"/>
<text x="541.7" y="233" class="cl" text-anchor="middle">0.8</text>
<rect x="524.4" y="236.3" width="13.3" height="8.6" fill="#fff"/>
<text x="531" y="244.1" class="cl" text-anchor="middle">1.2</text>
<rect x="524.4" y="259.3" width="13.3" height="8.6" fill="#fff"/>
<text x="531" y="267.1" class="cl" text-anchor="middle">1.4</text>
<rect x="259.1" y="273.4" width="13.3" height="8.6" fill="#fff"/>
<text x="265.7" y="281.2" class="cl" text-anchor="middle">0.2</text>
<rect x="280.2" y="270.6" width="13.3" height="8.6" fill="#fff"/>
<text x="286.8" y="278.4" class="cl" text-anchor="middle">0.4</text>
<rect x="390.8" y="245.7" width="13.3" height="8.6" fill="#fff"/>
<text x="397.4" y="253.5" class="cl" text-anchor="middle">0.4</text>
<rect x="357.7" y="269.9" width="13.3" height="8.6" fill="#fff"/>
<text x="364.3" y="277.7" class="cl" text-anchor="middle">0.2</text>
<g class="trk">
<polyline points="153.4,203.7 171.7,204.2 173.7,202.2 175.1,201.7 182.1,195.8 196.4,188.4 224.9,177.4 244.1,169.5 269.2,163.2 302.5,156.6 345.9,148.8 378.8,139.5 408.6,131.6 429.7,125 444.5,119.2 457.1,114.8 473.7,111.9 494,108.2 513.3,105.6 531.5,100.1 546,95.8 564.7,90.8 580.5,86.4 596,77.9 612,72"/>
<circle cx="153.4" cy="203.7" r="3.6"/>
<circle cx="171.7" cy="204.2" r="3.6"/>
<circle cx="173.7" cy="202.2" r="3.6"/>
<circle cx="175.1" cy="201.7" r="3.6"/>
<circle cx="182.1" cy="195.8" r="3.6"/>
<circle cx="196.4" cy="188.4" r="3.6"/>
<circle cx="224.9" cy="177.4" r="3.6"/>
<circle cx="244.1" cy="169.5" r="3.6"/>
<circle cx="269.2" cy="163.2" r="3.6"/>
<circle cx="302.5" cy="156.6" r="3.6"/>
<circle cx="345.9" cy="148.8" r="3.6"/>
<circle cx="408.6" cy="131.6" r="3.6"/>
<circle cx="429.7" cy="125" r="3.6"/>
<circle cx="444.5" cy="119.2" r="3.6"/>
<circle cx="457.1" cy="114.8" r="3.6"/>
<circle cx="473.7" cy="111.9" r="3.6"/>
<circle cx="494" cy="108.2" r="3.6"/>
<circle cx="513.3" cy="105.6" r="3.6"/>
<circle cx="531.5" cy="100.1" r="3.6"/>
<circle cx="546" cy="95.8" r="3.6"/>
<circle cx="564.7" cy="90.8" r="3.6"/>
<circle cx="580.5" cy="86.4" r="3.6"/>
<circle cx="596" cy="77.9" r="3.6"/>
<circle cx="378.8" cy="139.5" r="27"/>
<circle cx="378.8" cy="139.5" r="3.2" class="dot"/>
</g>
</g>
<rect x="22.4" y="4.5" width="33.2" height="33" class="lbox"/>
<text x="39.2" y="27.7" class="pl" style="font-size:19px" text-anchor="middle">a</text>
<rect x="22.4" y="4.5" width="576.1" height="277.9" class="frame"/>
<line x1="19.3" y1="282.4" x2="22.4" y2="282.4" class="tick"/>
<text x="15.2" y="285.8" class="tl" text-anchor="end" textLength="14.6" lengthAdjust="spacingAndGlyphs">25N</text>
<line x1="19.3" y1="257.1" x2="22.4" y2="257.1" class="tick"/>
<text x="15.2" y="260.5" class="tl" text-anchor="end" textLength="14.6" lengthAdjust="spacingAndGlyphs">30N</text>
<line x1="19.3" y1="231.9" x2="22.4" y2="231.9" class="tick"/>
<text x="15.2" y="235.3" class="tl" text-anchor="end" textLength="14.6" lengthAdjust="spacingAndGlyphs">35N</text>
<line x1="19.3" y1="206.6" x2="22.4" y2="206.6" class="tick"/>
<text x="15.2" y="210" class="tl" text-anchor="end" textLength="14.6" lengthAdjust="spacingAndGlyphs">40N</text>
<line x1="19.3" y1="181.3" x2="22.4" y2="181.3" class="tick"/>
<text x="15.2" y="184.7" class="tl" text-anchor="end" textLength="14.6" lengthAdjust="spacingAndGlyphs">45N</text>
<line x1="19.3" y1="156.1" x2="22.4" y2="156.1" class="tick"/>
<text x="15.2" y="159.5" class="tl" text-anchor="end" textLength="14.6" lengthAdjust="spacingAndGlyphs">50N</text>
<line x1="19.3" y1="130.8" x2="22.4" y2="130.8" class="tick"/>
<text x="15.2" y="134.2" class="tl" text-anchor="end" textLength="14.6" lengthAdjust="spacingAndGlyphs">55N</text>
<line x1="19.3" y1="105.6" x2="22.4" y2="105.6" class="tick"/>
<text x="15.2" y="109" class="tl" text-anchor="end" textLength="14.6" lengthAdjust="spacingAndGlyphs">60N</text>
<line x1="19.3" y1="80.3" x2="22.4" y2="80.3" class="tick"/>
<text x="15.2" y="83.7" class="tl" text-anchor="end" textLength="14.6" lengthAdjust="spacingAndGlyphs">65N</text>
<line x1="19.3" y1="55" x2="22.4" y2="55" class="tick"/>
<text x="15.2" y="58.4" class="tl" text-anchor="end" textLength="14.6" lengthAdjust="spacingAndGlyphs">70N</text>
<line x1="19.3" y1="29.8" x2="22.4" y2="29.8" class="tick"/>
<text x="15.2" y="33.2" class="tl" text-anchor="end" textLength="14.6" lengthAdjust="spacingAndGlyphs">75N</text>
<line x1="19.3" y1="4.5" x2="22.4" y2="4.5" class="tick"/>
<text x="15.2" y="7.9" class="tl" text-anchor="end" textLength="14.6" lengthAdjust="spacingAndGlyphs">80N</text>
<line x1="22.4" y1="282.4" x2="22.4" y2="285.6" class="tick"/>
<text x="22.4" y="297.9" class="tl" text-anchor="middle" textLength="16.3" lengthAdjust="spacingAndGlyphs">90W</text>
<line x1="66.7" y1="282.4" x2="66.7" y2="285.6" class="tick"/>
<text x="66.7" y="297.9" class="tl" text-anchor="middle" textLength="16.3" lengthAdjust="spacingAndGlyphs">80W</text>
<line x1="111" y1="282.4" x2="111" y2="285.6" class="tick"/>
<text x="111" y="297.9" class="tl" text-anchor="middle" textLength="16.3" lengthAdjust="spacingAndGlyphs">70W</text>
<line x1="155.3" y1="282.4" x2="155.3" y2="285.6" class="tick"/>
<text x="155.3" y="297.9" class="tl" text-anchor="middle" textLength="16.3" lengthAdjust="spacingAndGlyphs">60W</text>
<line x1="199.7" y1="282.4" x2="199.7" y2="285.6" class="tick"/>
<text x="199.7" y="297.9" class="tl" text-anchor="middle" textLength="16.3" lengthAdjust="spacingAndGlyphs">50W</text>
<line x1="244" y1="282.4" x2="244" y2="285.6" class="tick"/>
<text x="244" y="297.9" class="tl" text-anchor="middle" textLength="16.3" lengthAdjust="spacingAndGlyphs">40W</text>
<line x1="288.3" y1="282.4" x2="288.3" y2="285.6" class="tick"/>
<text x="288.3" y="297.9" class="tl" text-anchor="middle" textLength="16.3" lengthAdjust="spacingAndGlyphs">30W</text>
<line x1="332.6" y1="282.4" x2="332.6" y2="285.6" class="tick"/>
<text x="332.6" y="297.9" class="tl" text-anchor="middle" textLength="16.3" lengthAdjust="spacingAndGlyphs">20W</text>
<line x1="376.9" y1="282.4" x2="376.9" y2="285.6" class="tick"/>
<text x="376.9" y="297.9" class="tl" text-anchor="middle" textLength="16.3" lengthAdjust="spacingAndGlyphs">10W</text>
<line x1="421.2" y1="282.4" x2="421.2" y2="285.6" class="tick"/>
<text x="421.2" y="297.9" class="tl" text-anchor="middle" textLength="6" lengthAdjust="spacingAndGlyphs">0</text>
<line x1="465.6" y1="282.4" x2="465.6" y2="285.6" class="tick"/>
<text x="465.6" y="297.9" class="tl" text-anchor="middle" textLength="16.3" lengthAdjust="spacingAndGlyphs">10E</text>
<line x1="509.9" y1="282.4" x2="509.9" y2="285.6" class="tick"/>
<text x="509.9" y="297.9" class="tl" text-anchor="middle" textLength="16.3" lengthAdjust="spacingAndGlyphs">20E</text>
<line x1="554.2" y1="282.4" x2="554.2" y2="285.6" class="tick"/>
<text x="554.2" y="297.9" class="tl" text-anchor="middle" textLength="16.3" lengthAdjust="spacingAndGlyphs">30E</text>
<line x1="598.5" y1="282.4" x2="598.5" y2="285.6" class="tick"/>
<text x="598.5" y="297.9" class="tl" text-anchor="middle" textLength="16.3" lengthAdjust="spacingAndGlyphs">40E</text>
<g clip-path="url(#clipb)">
<polygon points="116.5,498 121.4,493.9 133,493.1 135.4,495.5 135.4,503 133,505.4 121.4,505.4 118.1,501.3" fill="#fbbb37"/>
<polygon points="217.8,497.6 225.7,487.7 231.6,480.8 236.6,480.8 242.5,488.7 248.4,496.6 245.5,502.5 219.8,502.5" fill="#fbbb37"/>
<polygon points="283,497.6 288,492.6 302.8,491.6 308.5,482 316.5,479.9 357.7,479.9 389,480.7 393.1,484.8 387.3,489.8 379.1,494.7 372.5,501.3 354.4,505.4 346.1,514.5 337.9,516.1 318.1,515.3 309.9,507.9 302.8,505.5 288,504.5" fill="#fbbb37"/>
<polygon points="317.3,498 322.2,493.1 349.4,492.2 356,493.1 359.3,498 354.4,502.9 349.4,504.6 323.1,504.6" fill="#ff6404"/>
<polygon points="433.5,453.7 427.5,447.1 433.5,441.9 458,441.9 463,445 468,451 474,454 479,459 482.2,463 482.2,485.4 476.3,491.3 470.4,485.7 465.1,480.4 459.8,473.5 454.5,466.9 444,466.2 440,461.6" fill="#fbbb37"/>
<polygon points="549,460.6 564.6,442.1 576.1,442.1 581.3,447.9 566.9,465.8 553.1,466.9" fill="#fbbb37"/>
<polygon points="484,600 489.2,594.3 499.1,593.6 506.4,586.4 513,581.1 532.1,581.1 537.3,587 532.7,593 522.2,593.6 518.2,600" fill="#fbbb37"/>
<line x1="66.7" y1="321.5" x2="66.7" y2="599.4" class="gv"/>
<line x1="111" y1="321.5" x2="111" y2="599.4" class="gv"/>
<line x1="155.3" y1="321.5" x2="155.3" y2="599.4" class="gv"/>
<line x1="199.7" y1="321.5" x2="199.7" y2="599.4" class="gv"/>
<line x1="244" y1="321.5" x2="244" y2="599.4" class="gv"/>
<line x1="288.3" y1="321.5" x2="288.3" y2="599.4" class="gv"/>
<line x1="332.6" y1="321.5" x2="332.6" y2="599.4" class="gv"/>
<line x1="376.9" y1="321.5" x2="376.9" y2="599.4" class="gv"/>
<line x1="421.2" y1="321.5" x2="421.2" y2="599.4" class="gv"/>
<line x1="465.6" y1="321.5" x2="465.6" y2="599.4" class="gv"/>
<line x1="509.9" y1="321.5" x2="509.9" y2="599.4" class="gv"/>
<line x1="554.2" y1="321.5" x2="554.2" y2="599.4" class="gv"/>
<line x1="22.4" y1="574.1" x2="598.5" y2="574.1" class="gh"/>
<line x1="22.4" y1="548.9" x2="598.5" y2="548.9" class="gh"/>
<line x1="22.4" y1="523.6" x2="598.5" y2="523.6" class="gh"/>
<line x1="22.4" y1="498.3" x2="598.5" y2="498.3" class="gh"/>
<line x1="22.4" y1="473.1" x2="598.5" y2="473.1" class="gh"/>
<line x1="22.4" y1="447.8" x2="598.5" y2="447.8" class="gh"/>
<line x1="22.4" y1="422.6" x2="598.5" y2="422.6" class="gh"/>
<line x1="22.4" y1="397.3" x2="598.5" y2="397.3" class="gh"/>
<line x1="22.4" y1="372" x2="598.5" y2="372" class="gh"/>
<line x1="22.4" y1="346.8" x2="598.5" y2="346.8" class="gh"/>
<g class="ct">
<polyline points="56.6,348.2 83.8,354.4 108.5,360.5 133.2,368 157.9,375.4 172,378.5 187,377.1 199.4,372.1 211.8,364.7 219.2,357.3 221.7,347.4 219.2,340 216,330 214,321"/>
<polyline points="22,361.8 46.7,365.5 71.4,370.4 96.1,375.4 120.8,381.5 145.5,386.5 160,384 167.3,377.1 172,377.5"/>
<polyline points="150,372.1 160,375 167.3,377.1"/>
<polyline points="22,392.4 46.7,392.4 71.4,391.9 92.5,392.6"/>
<polyline points="107.2,393.6 120.8,394.8 140,398 160,402 175,406 184.6,409.2 189.5,405.5 199.4,400.5 214.5,394.4"/>
<polyline points="229.1,394.4 236.5,398.1 248.8,403 266.1,406.7 285.9,408 300,406.7 324.6,392.7 337,391.4"/>
<polyline points="351.8,391.4 364.1,392.7 388.8,393.2 413.5,392.7 430,392 452.4,390 458,384 472,388.2 477.6,396.6 472,402.2"/>
<polyline points="458,403 452.4,403.6 430,405 414,407.5 388.8,407.5 364.1,409.9 339.4,414.9 314.7,419.8 290,422.3"/>
<polyline points="184.6,409.2 187,411.7 199.4,415.4 214.2,420.3 231.5,424 248,426"/>
<polyline points="262,425.5 285.9,424 300,422.8 314.7,412.4 339.4,406.2 364.1,402.5 388.8,400.6 413.5,400.1 440,400.6"/>
<polyline points="22,413.4 46.7,407.2 71.4,404.7 103,404.3"/>
<polyline points="118,405.5 127.1,406 165.4,411.8 213.1,423.7 235,432 250,438.3 264.8,439.1 287.1,439.8 300,439.6 314,441.3"/>
<polyline points="66,421.5 78.8,420.8 96.1,417.1 115.5,415.1"/>
<polyline points="129,414.6 145.5,415.5 165.4,421.4 190,429 213.1,435.7 240,444 250,448.7 264.8,450.2 287.1,452.4 313.5,455"/>
<polyline points="329,455.4 340,454.7 351.8,450.7 376.5,444.5 401.2,437.1 410,432"/>
<polyline points="327.5,441.6 351.8,437.1 376.5,429.7 401.2,423.5 425.9,419.8 440,418.6"/>
<polyline points="78.8,460.3 96.1,455.4 120.8,454.1 140.6,456.6 143.1,461.5 120.8,465.2 117,465.2"/>
<polyline points="104.5,464.5 96.1,464 78.8,460.3"/>
<polyline points="304.8,321 306.1,330.9 314.7,334.6 339.4,338.3 369.1,340.8"/>
<polyline points="384,340.8 408.6,338.3 423.4,333.4 425.9,325.9 424.7,321"/>
<polyline points="273.5,359.8 278.5,357.3 298.3,354.8 314.7,353.1 336.9,351.9"/>
<polyline points="351.8,351.9 388.8,353.1 413.5,354.4 433.3,356.8 441.2,358.8 444,363 438.4,370 430,372.8 423.4,374.1 401.2,376.6 376.5,379.1 351.8,380.3"/>
<polyline points="337,380.8 314.7,381.5 300,381.5 288.4,379.5 278.5,377.1 273.5,369.7 273.5,359.8"/>
<polyline points="430,347 450,346 480.4,347.6 486,342 508.4,337.8 542,333.6 570.1,330.8 600,328"/>
<polyline points="480.4,347.6 491.6,354.6 508.4,360.2 514,361.5"/>
<polyline points="528,363 533.6,363 556,364.4 584,368.6 600,374.2"/>
<polyline points="528,384 542,381.2 570.1,378.4 592.5,379.8 600,385.4"/>
<polyline points="528,384 547.6,388.2 570.1,391 600,388.2"/>
<polyline points="217,456 236.5,457.5 250,459.1 264.8,461.3 287.1,463.6 309.3,464.7 324.1,464.3 340,462.8 364.1,452 388.8,442.1 401.2,434.7 413.5,428.5"/>
<polyline points="428.4,426.9 439.3,427.9 451.2,429.9 463,433.8 478.9,439.8 486.8,449.7 490.7,459.5 490.7,471.4 486.8,483.3 478.9,495.1 474,499.5"/>
<polyline points="580,421 574.9,429.7 559.1,437.6 545.3,447.6 533.4,459.3 523.5,475.1 531.4,483 537,486.5"/>
<polyline points="549.5,485 563,479.1 578.9,471.2 594.7,463.3 600,459.3"/>
<polyline points="600,423.5 586.8,425.5 598.6,423.8"/>
<polyline points="598.6,427.7 586.8,429.7 572.9,433.6 559.1,439.5 549.2,445.5 541.3,455.4 539.3,465.2 543.3,471.2 553.2,475.1 565,475.1 578.9,471.2 590.7,465.2 600,461"/>
<polyline points="480,439.5 491.9,445.5 497.8,455.4 499.8,467.2 495.8,479.1 487.9,489 480,494.9"/>
<polyline points="507.7,465.2 515.6,473.2 509.7,479.1"/>
<polyline points="551.2,492.9 563,487 578.9,481.1 598.6,473.2"/>
<polyline points="563,498.9 578.9,490.9 598.6,483"/>
<polyline points="485,438 501,436.5"/>
<polyline points="517,436 525,433"/>
<polyline points="229,467 250,468 264.8,470.2 287.1,472.4 301.9,473.2 316.7,472.4 340,470.2 364.1,458.1 388.8,449.5 408.6,442.1 423.4,437.1"/>
<polyline points="439.3,435.8 449.2,437.8 463,441 472.9,445.7 478.9,453.6 482.8,465.5 482.8,475.4 478.9,481.3 470.9,483.3 463,479.3 449.2,471.4 439.3,467.5 429.4,465.5 416.5,462.5"/>
<polyline points="240.5,477.5 250,479.9 264.8,482.1 279.7,483.6 294.5,483.6 314.7,480.4 339.4,477.9 359.2,475.4"/>
<polyline points="372.8,476.7 379,480.4 382.7,486.5 383.9,494 381.4,501.4 375.8,506 365.9,509 354.4,510.5 341.2,511.5 324.7,512.5 313.2,510"/>
<polyline points="403.7,463 388.8,466.8 371.5,471.7"/>
<polyline points="399.8,507 419.5,495.1 435.4,485.2 449.2,483.3 463,487.2 470.9,495.1"/>
<polyline points="318.1,498.3 333,491.4 342.8,486.5 354.4,485.7 356,486.5 352.7,494.7 349.4,500.5 339.5,500.8"/>
<polyline points="326,500.3 318.1,498.3"/>
<polyline points="284.7,499.3 300,498.1 310,501 313.2,505.4"/>
<polyline points="273.5,510.4 290,513.6 314.7,514.8 339.4,516.1 364.1,512.4 376.5,509.9 388,505 400,497"/>
<polyline points="206.5,518.8 236.5,518.6 261.2,519.1 285.9,517.8 300,518 319.7,522.2 325,523"/>
<polyline points="339.4,523.5 364.1,519.8 379,517.3 400,512 420,507 440,504 460,503.5 469,503.5"/>
<polyline points="206.5,525.6 236.5,524.5 261.2,525.2 290,527.2 314.7,530.1"/>
<polyline points="329.5,530.9 351.8,533.4 371.5,532.1 381.4,528.4 400,520 420,514 430,511.5"/>
<polyline points="471.7,556.8 476.1,552.7 479.4,544.4 479.4,532.9 481.1,523 486,518.1 489.3,511.5 492.6,506.5 495.9,501.6 500.8,495"/>
<polyline points="250.4,532.6 270,533.4 290,537.1 314.7,538.3 339.4,539.5 364.1,539.5 383.9,534.6 390,530"/>
<polyline points="406.1,529.7 413.5,532.1 418.5,535.8 417.3,549.4 418.5,561.8 416,574.1 413.5,581.5"/>
<polyline points="241,546.6 270,549.4 290,548.2 314.7,548.2 334.5,549.4 341.9,554.4 339.4,561.8 327.1,565.5 318,566"/>
<polyline points="304,566.5 290,568 270,576 242,580.2 230.8,587.2 247.6,595.6 253.2,600"/>
<polyline points="376.5,559.3 383.9,553.1 396.3,553.1 401.2,560.5 396.3,566.7 383.9,567.9 376.5,559.3"/>
<polyline points="290,586.5 292,588.5"/>
<polyline points="305,589.3 319.7,587.7 327.1,586.5 322.1,582.8 309.8,582.8 294.9,585.2 290,586.5"/>
<polyline points="372,588 388.8,582.8 401.2,586.5 393.8,590.2 385,590.9"/>
<polyline points="314.7,600 339.4,595.1 364.1,592.7 388.8,593.9 413.5,596.4 440,597.6"/>
<polyline points="430,511.5 436.6,508.2 443.2,513.1 446.5,519.7 448.1,528 448.1,539.5 447.3,549.4 451.4,556 458.5,557.6"/>
<polyline points="487.7,560.9 494.3,549.4 495.9,536.2 495.9,528 500.8,519.7 505.8,513.1 512.4,508.2 522.3,504.9 540,501 560,497 580,492 600,487"/>
<polyline points="505,547 509.1,541.1 512.4,534.5 517.3,528 523.9,523 535,517 550,511 570,505 600,498"/>
<polyline points="516.5,551.8 532.3,549.8 558.6,544.5 579.7,540.5 600,537"/>
<polyline points="440,573.5 453.2,572.2 470,570.5"/>
<polyline points="495.4,564.3 508.5,560.3 519.1,556.4 532.3,552.4 545.4,548.4 558.6,544.5 571.8,541.9 582.3,540 600,538.5"/>
<polyline points="440,586.7 453.2,582.7 466.4,578.8 492.7,572.2 519.1,564.3 545.4,557.7 571.8,552.4 598.1,548.4"/>
<polyline points="440,594.6 466.4,586.7 492.7,577.4 519.1,569.5 545.4,562.9 571.8,557.7 598.1,553.7"/>
<polyline points="466.4,594.6 492.7,584 519.1,574.8 540,570.5 549,570.2"/>
<polyline points="563,570.8 585,573.5 598.1,574.8"/>
<polyline points="479.5,599.5 505.9,589 532.3,579.8 560,577 590,579"/>
<polyline points="425,545 435,540 440,530 437,520 430,515"/>
<polyline points="22,478.1 38.5,476.5 55,475.5 70.5,475"/>
<polyline points="85.5,474.8 97.8,474.8 120.8,473.8 153.8,471.5 172,468.5 185,464 197,459 204,456.5"/>
<polyline points="22,486.4 55,483.7 87.9,482.4 120.8,481.1 153.8,478.1 180.2,474.8 200,470 214.5,467"/>
<polyline points="22,496.2 55,492.9 87.9,489.7 120.8,488 153.8,484.7 180.2,481.4 206.5,478 225.5,477"/>
<polyline points="22,516 41.8,506.1 71.4,499.5 104.4,496.2 137.3,494.6 170.3,489.7 203.2,486 230,486 260,487 285,486.5"/>
<polyline points="22,527.5 55,517.7 87.9,511.1 120.8,506.1 153.8,502.8 186.7,500 222,499 248.8,499.5 270,499.8"/>
<polyline points="284.7,499.3 300,498.1 310,501 313.2,505.4"/>
<polyline points="22,539.1 55,527.5 87.9,519.3 120.8,514.4 153.8,511.1 186.7,509.4 222,509 248.8,510.5 259,511.2"/>
<polyline points="22,567.4 41.8,553.6 61.5,541.7 81.3,534.8 101.1,529.9 120.9,525.9 142,523 165,520.5 192.5,519"/>
<polyline points="22,577.3 41.8,565.5 61.5,553.6 81.3,543.7 101.1,537.8 120.9,532.9 142,528.9 165,527 192.5,526"/>
<polyline points="22,585.2 41.8,575.4 61.5,563.5 81.3,553.6 101.1,545.7 120.9,540.8 142,537.8 153.8,536 186.7,534.5 222,533.3 236.4,532.6"/>
<polyline points="41.8,597.1 61.5,585.2 81.3,575.4 101.1,567.4 120.9,562.5 133.8,560.7 153.6,555.8 161.5,548.8 179.3,544.9 199.1,544.5 226.5,545.9"/>
<polyline points="45.7,600 81.3,585.2 101.1,579.3 120.9,573.4 135,568 145,566"/>
<polyline points="120.9,599 129.9,599.3 155.6,590.4 163.5,587.4 169.4,582.4 179.3,578.9 189.2,580.5 199.1,587.4 214.9,598.3"/>
</g>
<g class="cs" transform="translate(0 317)">
<use href="#coast"/>
</g>
<rect x="171.9" y="374.6" width="10.6" height="8.6" fill="#fff"/>
<text x="177.2" y="382.4" class="cl" text-anchor="middle">20</text>
<rect x="94.5" y="389" width="10.6" height="8.6" fill="#fff"/>
<text x="99.8" y="396.8" class="cl" text-anchor="middle">10</text>
<rect x="216.4" y="389.5" width="10.6" height="8.6" fill="#fff"/>
<text x="221.7" y="397.3" class="cl" text-anchor="middle">10</text>
<rect x="339.1" y="386.8" width="10.6" height="8.6" fill="#fff"/>
<text x="344.4" y="394.6" class="cl" text-anchor="middle">10</text>
<rect x="459.7" y="397.3" width="10.6" height="8.6" fill="#fff"/>
<text x="465" y="405.1" class="cl" text-anchor="middle">10</text>
<rect x="249.7" y="421.6" width="10.6" height="8.6" fill="#fff"/>
<text x="255" y="429.4" class="cl" text-anchor="middle">10</text>
<rect x="105.2" y="400.3" width="10.6" height="8.6" fill="#fff"/>
<text x="110.5" y="408.1" class="cl" text-anchor="middle">20</text>
<rect x="117" y="410.7" width="10.6" height="8.6" fill="#fff"/>
<text x="122.3" y="418.5" class="cl" text-anchor="middle">30</text>
<rect x="315.9" y="451" width="10.6" height="8.6" fill="#fff"/>
<text x="321.2" y="458.8" class="cl" text-anchor="middle">30</text>
<rect x="315.6" y="437.7" width="10.6" height="8.6" fill="#fff"/>
<text x="320.9" y="445.5" class="cl" text-anchor="middle">20</text>
<rect x="105.7" y="460.8" width="10.6" height="8.6" fill="#fff"/>
<text x="111" y="468.6" class="cl" text-anchor="middle">20</text>
<rect x="371.2" y="336.9" width="10.6" height="8.6" fill="#fff"/>
<text x="376.5" y="344.7" class="cl" text-anchor="middle">10</text>
<rect x="339.1" y="347.5" width="10.6" height="8.6" fill="#fff"/>
<text x="344.4" y="355.3" class="cl" text-anchor="middle">20</text>
<rect x="339.1" y="376.4" width="10.6" height="8.6" fill="#fff"/>
<text x="344.4" y="384.2" class="cl" text-anchor="middle">20</text>
<rect x="515.7" y="358.1" width="10.6" height="8.6" fill="#fff"/>
<text x="521" y="365.9" class="cl" text-anchor="middle">10</text>
<rect x="415.7" y="422.3" width="10.6" height="8.6" fill="#fff"/>
<text x="421" y="430.1" class="cl" text-anchor="middle">40</text>
<rect x="581.6" y="415.6" width="10.6" height="8.6" fill="#fff"/>
<text x="586.9" y="423.4" class="cl" text-anchor="middle">40</text>
<rect x="538" y="482.6" width="10.6" height="8.6" fill="#fff"/>
<text x="543.3" y="490.4" class="cl" text-anchor="middle">30</text>
<rect x="504.2" y="432.2" width="10.6" height="8.6" fill="#fff"/>
<text x="509.5" y="440" class="cl" text-anchor="middle">20</text>
<rect x="424.3" y="430.7" width="10.6" height="8.6" fill="#fff"/>
<text x="429.6" y="438.5" class="cl" text-anchor="middle">50</text>
<rect x="360.1" y="470.3" width="10.6" height="8.6" fill="#fff"/>
<text x="365.4" y="478.1" class="cl" text-anchor="middle">60</text>
<rect x="404.5" y="457.9" width="10.6" height="8.6" fill="#fff"/>
<text x="409.8" y="465.7" class="cl" text-anchor="middle">50</text>
<rect x="327.7" y="496.1" width="10.6" height="8.6" fill="#fff"/>
<text x="333" y="503.9" class="cl" text-anchor="middle">70</text>
<rect x="326.7" y="519.1" width="10.6" height="8.6" fill="#fff"/>
<text x="332" y="526.9" class="cl" text-anchor="middle">40</text>
<rect x="470.9" y="499" width="10.6" height="8.6" fill="#fff"/>
<text x="476.2" y="506.8" class="cl" text-anchor="middle">40</text>
<rect x="316.3" y="525.7" width="10.6" height="8.6" fill="#fff"/>
<text x="321.6" y="533.5" class="cl" text-anchor="middle">30</text>
<rect x="460.1" y="553.2" width="10.6" height="8.6" fill="#fff"/>
<text x="465.4" y="561" class="cl" text-anchor="middle">30</text>
<rect x="393.4" y="524" width="10.6" height="8.6" fill="#fff"/>
<text x="398.7" y="531.8" class="cl" text-anchor="middle">20</text>
<rect x="305.7" y="561.8" width="10.6" height="8.6" fill="#fff"/>
<text x="311" y="569.6" class="cl" text-anchor="middle">10</text>
<rect x="293.3" y="585.8" width="10.6" height="8.6" fill="#fff"/>
<text x="298.6" y="593.6" class="cl" text-anchor="middle">20</text>
<rect x="372.4" y="586.5" width="10.6" height="8.6" fill="#fff"/>
<text x="377.7" y="594.3" class="cl" text-anchor="middle">10</text>
<rect x="505.2" y="547.6" width="10.6" height="8.6" fill="#fff"/>
<text x="510.5" y="555.4" class="cl" text-anchor="middle">10</text>
<rect x="471.6" y="565.7" width="10.6" height="8.6" fill="#fff"/>
<text x="476.9" y="573.5" class="cl" text-anchor="middle">20</text>
<rect x="483.5" y="562.5" width="10.6" height="8.6" fill="#fff"/>
<text x="488.8" y="570.3" class="cl" text-anchor="middle">20</text>
<rect x="550.7" y="565.9" width="10.6" height="8.6" fill="#fff"/>
<text x="556" y="573.7" class="cl" text-anchor="middle">60</text>
<rect x="72.7" y="470.4" width="10.6" height="8.6" fill="#fff"/>
<text x="78" y="478.2" class="cl" text-anchor="middle">30</text>
<rect x="205.3" y="451.4" width="10.6" height="8.6" fill="#fff"/>
<text x="210.6" y="459.2" class="cl" text-anchor="middle">40</text>
<rect x="216.4" y="462.3" width="10.6" height="8.6" fill="#fff"/>
<text x="221.7" y="470.1" class="cl" text-anchor="middle">50</text>
<rect x="227.5" y="472.2" width="10.6" height="8.6" fill="#fff"/>
<text x="232.8" y="480" class="cl" text-anchor="middle">60</text>
<rect x="272" y="495.4" width="10.6" height="8.6" fill="#fff"/>
<text x="277.3" y="503.2" class="cl" text-anchor="middle">60</text>
<rect x="260.8" y="506.8" width="10.6" height="8.6" fill="#fff"/>
<text x="266.1" y="514.6" class="cl" text-anchor="middle">50</text>
<rect x="194.1" y="514.7" width="10.6" height="8.6" fill="#fff"/>
<text x="199.4" y="522.5" class="cl" text-anchor="middle">40</text>
<rect x="194.1" y="521.6" width="10.6" height="8.6" fill="#fff"/>
<text x="199.4" y="529.4" class="cl" text-anchor="middle">30</text>
<rect x="238.1" y="528.2" width="10.6" height="8.6" fill="#fff"/>
<text x="243.4" y="536" class="cl" text-anchor="middle">20</text>
<rect x="228.3" y="541.6" width="10.6" height="8.6" fill="#fff"/>
<text x="233.6" y="549.4" class="cl" text-anchor="middle">10</text>
<g class="trk">
<polyline points="153.4,520.7 171.7,521.2 173.7,519.2 175.1,518.7 182.1,512.8 196.4,505.4 224.9,494.4 244.1,486.5 269.2,480.2 302.5,473.6 345.9,465.8 378.8,456.5 408.6,448.6 429.7,442 444.5,436.2 457.1,431.8 473.7,428.9 494,425.2 513.3,422.6 531.5,417.1 546,412.8 564.7,407.8 580.5,403.4 596,394.9 612,389"/>
<circle cx="153.4" cy="520.7" r="3.6"/>
<circle cx="171.7" cy="521.2" r="3.6"/>
<circle cx="173.7" cy="519.2" r="3.6"/>
<circle cx="175.1" cy="518.7" r="3.6"/>
<circle cx="182.1" cy="512.8" r="3.6"/>
<circle cx="196.4" cy="505.4" r="3.6"/>
<circle cx="224.9" cy="494.4" r="3.6"/>
<circle cx="244.1" cy="486.5" r="3.6"/>
<circle cx="269.2" cy="480.2" r="3.6"/>
<circle cx="302.5" cy="473.6" r="3.6"/>
<circle cx="345.9" cy="465.8" r="3.6"/>
<circle cx="408.6" cy="448.6" r="3.6"/>
<circle cx="429.7" cy="442" r="3.6"/>
<circle cx="444.5" cy="436.2" r="3.6"/>
<circle cx="457.1" cy="431.8" r="3.6"/>
<circle cx="473.7" cy="428.9" r="3.6"/>
<circle cx="494" cy="425.2" r="3.6"/>
<circle cx="513.3" cy="422.6" r="3.6"/>
<circle cx="531.5" cy="417.1" r="3.6"/>
<circle cx="546" cy="412.8" r="3.6"/>
<circle cx="564.7" cy="407.8" r="3.6"/>
<circle cx="580.5" cy="403.4" r="3.6"/>
<circle cx="596" cy="394.9" r="3.6"/>
<circle cx="378.8" cy="456.5" r="27"/>
<circle cx="378.8" cy="456.5" r="3.2" class="dot"/>
</g>
</g>
<rect x="22.4" y="321.5" width="33.2" height="33" class="lbox"/>
<text x="39.2" y="344.7" class="pl" style="font-size:17px" text-anchor="middle">b</text>
<rect x="22.4" y="321.5" width="576.1" height="277.9" class="frame"/>
<line x1="19.3" y1="599.4" x2="22.4" y2="599.4" class="tick"/>
<text x="15.2" y="602.8" class="tl" text-anchor="end" textLength="14.6" lengthAdjust="spacingAndGlyphs">25N</text>
<line x1="19.3" y1="574.1" x2="22.4" y2="574.1" class="tick"/>
<text x="15.2" y="577.5" class="tl" text-anchor="end" textLength="14.6" lengthAdjust="spacingAndGlyphs">30N</text>
<line x1="19.3" y1="548.9" x2="22.4" y2="548.9" class="tick"/>
<text x="15.2" y="552.3" class="tl" text-anchor="end" textLength="14.6" lengthAdjust="spacingAndGlyphs">35N</text>
<line x1="19.3" y1="523.6" x2="22.4" y2="523.6" class="tick"/>
<text x="15.2" y="527" class="tl" text-anchor="end" textLength="14.6" lengthAdjust="spacingAndGlyphs">40N</text>
<line x1="19.3" y1="498.3" x2="22.4" y2="498.3" class="tick"/>
<text x="15.2" y="501.7" class="tl" text-anchor="end" textLength="14.6" lengthAdjust="spacingAndGlyphs">45N</text>
<line x1="19.3" y1="473.1" x2="22.4" y2="473.1" class="tick"/>
<text x="15.2" y="476.5" class="tl" text-anchor="end" textLength="14.6" lengthAdjust="spacingAndGlyphs">50N</text>
<line x1="19.3" y1="447.8" x2="22.4" y2="447.8" class="tick"/>
<text x="15.2" y="451.2" class="tl" text-anchor="end" textLength="14.6" lengthAdjust="spacingAndGlyphs">55N</text>
<line x1="19.3" y1="422.6" x2="22.4" y2="422.6" class="tick"/>
<text x="15.2" y="426" class="tl" text-anchor="end" textLength="14.6" lengthAdjust="spacingAndGlyphs">60N</text>
<line x1="19.3" y1="397.3" x2="22.4" y2="397.3" class="tick"/>
<text x="15.2" y="400.7" class="tl" text-anchor="end" textLength="14.6" lengthAdjust="spacingAndGlyphs">65N</text>
<line x1="19.3" y1="372" x2="22.4" y2="372" class="tick"/>
<text x="15.2" y="375.4" class="tl" text-anchor="end" textLength="14.6" lengthAdjust="spacingAndGlyphs">70N</text>
<line x1="19.3" y1="346.8" x2="22.4" y2="346.8" class="tick"/>
<text x="15.2" y="350.2" class="tl" text-anchor="end" textLength="14.6" lengthAdjust="spacingAndGlyphs">75N</text>
<line x1="19.3" y1="321.5" x2="22.4" y2="321.5" class="tick"/>
<text x="15.2" y="324.9" class="tl" text-anchor="end" textLength="14.6" lengthAdjust="spacingAndGlyphs">80N</text>
<line x1="22.4" y1="599.4" x2="22.4" y2="602.6" class="tick"/>
<text x="22.4" y="614.9" class="tl" text-anchor="middle" textLength="16.3" lengthAdjust="spacingAndGlyphs">90W</text>
<line x1="66.7" y1="599.4" x2="66.7" y2="602.6" class="tick"/>
<text x="66.7" y="614.9" class="tl" text-anchor="middle" textLength="16.3" lengthAdjust="spacingAndGlyphs">80W</text>
<line x1="111" y1="599.4" x2="111" y2="602.6" class="tick"/>
<text x="111" y="614.9" class="tl" text-anchor="middle" textLength="16.3" lengthAdjust="spacingAndGlyphs">70W</text>
<line x1="155.3" y1="599.4" x2="155.3" y2="602.6" class="tick"/>
<text x="155.3" y="614.9" class="tl" text-anchor="middle" textLength="16.3" lengthAdjust="spacingAndGlyphs">60W</text>
<line x1="199.7" y1="599.4" x2="199.7" y2="602.6" class="tick"/>
<text x="199.7" y="614.9" class="tl" text-anchor="middle" textLength="16.3" lengthAdjust="spacingAndGlyphs">50W</text>
<line x1="244" y1="599.4" x2="244" y2="602.6" class="tick"/>
<text x="244" y="614.9" class="tl" text-anchor="middle" textLength="16.3" lengthAdjust="spacingAndGlyphs">40W</text>
<line x1="288.3" y1="599.4" x2="288.3" y2="602.6" class="tick"/>
<text x="288.3" y="614.9" class="tl" text-anchor="middle" textLength="16.3" lengthAdjust="spacingAndGlyphs">30W</text>
<line x1="332.6" y1="599.4" x2="332.6" y2="602.6" class="tick"/>
<text x="332.6" y="614.9" class="tl" text-anchor="middle" textLength="16.3" lengthAdjust="spacingAndGlyphs">20W</text>
<line x1="376.9" y1="599.4" x2="376.9" y2="602.6" class="tick"/>
<text x="376.9" y="614.9" class="tl" text-anchor="middle" textLength="16.3" lengthAdjust="spacingAndGlyphs">10W</text>
<line x1="421.2" y1="599.4" x2="421.2" y2="602.6" class="tick"/>
<text x="421.2" y="614.9" class="tl" text-anchor="middle" textLength="6" lengthAdjust="spacingAndGlyphs">0</text>
<line x1="465.6" y1="599.4" x2="465.6" y2="602.6" class="tick"/>
<text x="465.6" y="614.9" class="tl" text-anchor="middle" textLength="16.3" lengthAdjust="spacingAndGlyphs">10E</text>
<line x1="509.9" y1="599.4" x2="509.9" y2="602.6" class="tick"/>
<text x="509.9" y="614.9" class="tl" text-anchor="middle" textLength="16.3" lengthAdjust="spacingAndGlyphs">20E</text>
<line x1="554.2" y1="599.4" x2="554.2" y2="602.6" class="tick"/>
<text x="554.2" y="614.9" class="tl" text-anchor="middle" textLength="16.3" lengthAdjust="spacingAndGlyphs">30E</text>
<line x1="598.5" y1="599.4" x2="598.5" y2="602.6" class="tick"/>
<text x="598.5" y="614.9" class="tl" text-anchor="middle" textLength="16.3" lengthAdjust="spacingAndGlyphs">40E</text>
</svg>
</body></html>
